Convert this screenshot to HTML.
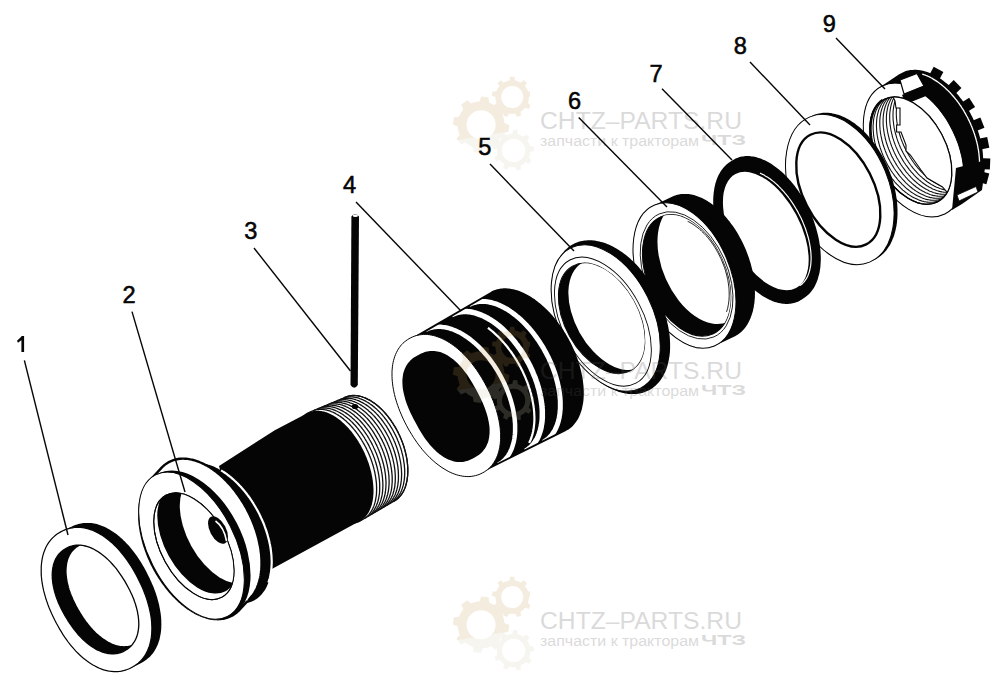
<!DOCTYPE html>
<html><head><meta charset="utf-8"><style>
html,body{margin:0;padding:0;background:#fff;width:1000px;height:687px;overflow:hidden}
svg{display:block}
text{font-family:"Liberation Sans",sans-serif}
</style></head><body>
<svg width="1000" height="687" viewBox="0 0 1000 687"><defs><clipPath id="c1"><ellipse cx="910.8" cy="150.6" rx="57.8" ry="34.9" transform="rotate(62.2 910.8 150.6)"/></clipPath><clipPath id="c2"><ellipse cx="686.6" cy="275.4" rx="64.1" ry="39.0" transform="rotate(66.0 686.6 275.4)"/></clipPath><clipPath id="c3"><ellipse cx="601.6" cy="318.4" rx="59.8" ry="36.6" transform="rotate(60.9 601.6 318.4)"/></clipPath><clipPath id="c4"><path d="M395.9 374.4 L395.9 372.8 L396.0 371.3 L396.1 369.7 L396.2 368.2 L396.4 366.7 L396.6 365.2 L396.9 363.8 L397.1 362.4 L397.5 361.0 L397.8 359.7 L398.2 358.3 L398.6 357.1 L399.1 355.8 L399.6 354.6 L400.1 353.4 L400.6 352.2 L401.2 351.1 L401.9 350.1 L402.5 349.0 L403.2 348.0 L403.9 347.1 L404.6 346.1 L405.4 345.2 L406.2 344.4 L407.0 343.6 L407.9 342.9 L408.8 342.2 L409.7 341.5 L410.6 340.9 L411.6 340.3 L491.7 293.6 L492.8 293.0 L493.8 292.5 L494.9 292.1 L496.0 291.7 L497.1 291.3 L498.2 291.0 L499.4 290.7 L500.6 290.5 L501.8 290.3 L503.0 290.2 L504.3 290.1 L505.5 290.1 L506.8 290.1 L508.1 290.2 L509.4 290.3 L510.7 290.5 L512.0 290.7 L513.4 291.0 L514.7 291.3 L516.1 291.7 L517.5 292.1 L518.8 292.6 L520.2 293.1 L521.6 293.6 L523.0 294.2 L524.4 294.9 L525.8 295.6 L527.2 296.3 L528.6 297.1 L530.0 297.9 L531.4 298.8 L532.8 299.7 L534.2 300.7 L535.6 301.7 L537.0 302.7 L538.4 303.8 L539.8 304.9 L541.2 306.1 L542.5 307.3 L543.9 308.5 L545.2 309.8 L546.6 311.1 L547.9 312.5 L549.2 313.8 L550.5 315.2 L551.8 316.7 L553.0 318.1 L554.3 319.6 L555.5 321.2 L556.7 322.7 L557.9 324.3 L559.1 325.9 L560.2 327.6 L561.4 329.2 L562.5 330.9 L563.5 332.6 L564.6 334.3 L565.6 336.1 L566.6 337.8 L567.6 339.6 L568.6 341.4 L569.5 343.2 L570.4 345.0 L571.3 346.8 L572.1 348.6 L573.0 350.5 L573.7 352.3 L574.5 354.2 L575.2 356.0 L575.9 357.9 L576.5 359.8 L577.2 361.6 L577.8 363.5 L578.3 365.4 L578.8 367.2 L579.3 369.1 L579.8 370.9 L580.2 372.8 L580.6 374.6 L580.9 376.4 L581.2 378.3 L581.5 380.1 L581.8 381.9 L582.0 383.6 L582.1 385.4 L582.2 387.1 L582.3 388.9 L582.4 390.6 L582.4 392.3 L582.4 393.9 L582.3 395.6 L582.2 397.2 L582.1 398.8 L581.9 400.4 L581.7 401.9 L581.5 403.4 L581.2 404.9 L580.9 406.3 L580.5 407.8 L580.2 409.1 L579.8 410.5 L579.3 411.8 L578.8 413.1 L578.3 414.4 L577.7 415.6 L577.1 416.8 L576.5 417.9 L575.8 419.0 L575.1 420.1 L574.4 421.1 L573.7 422.1 L572.9 423.0 L572.1 423.9 L571.2 424.7 L570.4 425.5 L569.4 426.3 L568.5 427.0 L567.5 427.7 L566.6 428.3 L565.5 428.9 L564.5 429.4 L481.6 470.9 L480.5 471.4 L479.5 471.8 L478.4 472.1 L477.3 472.5 L476.2 472.8 L475.1 473.0 L473.9 473.2 L472.8 473.3 L471.6 473.4 L470.4 473.4 L469.2 473.4 L467.9 473.4 L466.7 473.3 L465.4 473.2 L464.2 473.0 L462.9 472.7 L461.6 472.4 L460.3 472.1 L459.0 471.8 L457.6 471.3 L456.3 470.9 L455.0 470.4 L453.6 469.8 L452.3 469.2 L451.0 468.5 L449.6 467.9 L448.2 467.1 L446.9 466.3 L445.6 465.5 L444.2 464.6 L442.9 463.8 L441.5 462.8 L440.2 461.8 L438.8 460.8 L437.5 459.8 L436.2 458.6 L434.9 457.5 L433.6 456.3 L432.2 455.1 L431.0 453.9 L429.7 452.6 L428.4 451.3 L427.2 450.0 L425.9 448.6 L424.7 447.2 L423.5 445.8 L422.3 444.3 L421.1 442.8 L420.0 441.3 L418.8 439.8 L417.7 438.2 L416.6 436.6 L415.6 435.1 L414.5 433.4 L413.5 431.8 L412.5 430.1 L411.5 428.4 L410.5 426.8 L409.6 425.0 L408.7 423.3 L407.8 421.6 L406.9 419.8 L406.1 418.1 L405.3 416.3 L404.6 414.5 L403.8 412.8 L403.1 411.0 L402.4 409.2 L401.8 407.4 L401.2 405.6 L400.6 403.8 L400.0 402.0 L399.5 400.2 L399.0 398.4 L398.6 396.6 L398.2 394.9 L397.8 393.1 L397.4 391.3 L397.1 389.6 L396.8 387.8 L396.6 386.1 L396.4 384.4 L396.2 382.7 L396.1 381.0 L396.0 379.3 L395.9 377.7 L395.9 376.1Z"/></clipPath><clipPath id="c5"><ellipse cx="193.9" cy="546.2" rx="58.2" ry="32.7" transform="rotate(61.1 193.9 546.2)"/></clipPath><clipPath id="c6"><path d="M125.5 650.3 L124.0 651.1 L122.6 651.8 L121.3 652.4 L119.9 652.8 L118.5 653.2 L117.0 653.5 L115.6 653.7 L114.1 653.9 L112.7 653.9 L111.2 653.9 L109.6 653.7 L108.1 653.5 L106.6 653.2 L105.0 652.8 L103.5 652.4 L101.9 651.9 L100.3 651.2 L98.7 650.5 L97.1 649.8 L95.5 648.9 L94.0 648.0 L92.4 647.0 L90.8 645.9 L89.2 644.7 L87.6 643.5 L86.1 642.2 L84.5 640.8 L83.0 639.4 L81.4 637.9 L79.9 636.3 L78.4 634.7 L76.9 632.9 L75.5 631.2 L74.0 629.3 L72.6 627.4 L71.2 625.5 L69.8 623.4 L68.4 621.3 L67.0 619.0 L65.4 616.4 L64.0 613.9 L62.8 611.7 L61.6 609.4 L60.5 607.2 L59.5 605.0 L58.5 602.9 L57.7 600.7 L56.8 598.6 L56.1 596.5 L55.4 594.4 L54.8 592.3 L54.2 590.2 L53.8 588.2 L53.3 586.2 L53.0 584.2 L52.7 582.3 L52.5 580.3 L52.3 578.4 L52.3 576.6 L52.2 574.8 L52.3 573.0 L52.4 571.2 L52.6 569.5 L52.8 567.9 L53.2 566.2 L53.5 564.7 L54.0 563.2 L54.5 561.7 L55.1 560.3 L55.7 558.9 L56.5 557.6 L57.2 556.4 L58.1 555.2 L59.0 554.0 L60.0 553.0 L61.0 551.9 L62.2 551.0 L63.4 550.1 L64.7 549.2 L66.2 548.3 L67.7 547.5 L69.0 546.9 L70.4 546.4 L71.8 546.0 L73.3 545.6 L74.7 545.4 L76.1 545.2 L77.6 545.1 L79.1 545.1 L80.6 545.2 L82.1 545.4 L83.7 545.6 L85.2 546.0 L86.8 546.4 L88.3 546.9 L89.9 547.4 L91.5 548.1 L93.1 548.8 L94.7 549.7 L96.2 550.6 L97.8 551.5 L99.4 552.6 L101.0 553.7 L102.6 554.9 L104.2 556.2 L105.7 557.5 L107.3 558.9 L108.8 560.4 L110.3 561.9 L111.8 563.5 L113.3 565.2 L114.8 566.9 L116.3 568.7 L117.7 570.6 L119.1 572.6 L120.5 574.6 L121.9 576.7 L123.3 578.9 L124.8 581.2 L126.3 583.9 L127.6 586.2 L128.8 588.5 L130.0 590.7 L131.0 592.9 L132.0 595.1 L132.9 597.2 L133.8 599.3 L134.5 601.5 L135.3 603.6 L135.9 605.7 L136.5 607.7 L137.0 609.8 L137.5 611.8 L137.8 613.8 L138.2 615.8 L138.4 617.7 L138.6 619.6 L138.7 621.5 L138.8 623.3 L138.8 625.1 L138.7 626.9 L138.5 628.6 L138.3 630.3 L138.0 632.0 L137.7 633.5 L137.2 635.1 L136.8 636.6 L136.2 638.0 L135.6 639.4 L134.9 640.7 L134.2 642.0 L133.3 643.2 L132.5 644.4 L131.5 645.5 L130.5 646.5 L129.4 647.5 L128.2 648.5 L127.0 649.4Z"/></clipPath><clipPath id="wmA1"><path d="M440 60.0 L530 60.0 L530 128.0 L440 143.0 Z"/></clipPath><clipPath id="wmB1"><path d="M440 143.0 L530 128.0 L530 180.0 L440 180.0 Z"/></clipPath><clipPath id="wmA2"><path d="M440 310.0 L530 310.0 L530 378.0 L440 393.0 Z"/></clipPath><clipPath id="wmB2"><path d="M440 393.0 L530 378.0 L530 430.0 L440 430.0 Z"/></clipPath><clipPath id="wmA3"><path d="M440 560.0 L530 560.0 L530 628.0 L440 643.0 Z"/></clipPath><clipPath id="wmB3"><path d="M440 643.0 L530 628.0 L530 680.0 L440 680.0 Z"/></clipPath></defs><rect width="1000" height="687" fill="#fff"/><rect x="928.2" y="70.1" width="14" height="11" fill="#050505" transform="rotate(-61.5 935.2 75.6)"/>
<rect x="945.6" y="83.4" width="14" height="11" fill="#050505" transform="rotate(-44.7 952.6 88.9)"/>
<rect x="959.2" y="100.6" width="14" height="11" fill="#050505" transform="rotate(-32.4 966.2 106.1)"/>
<rect x="968.9" y="119.8" width="14" height="11" fill="#050505" transform="rotate(-21.6 975.9 125.3)"/>
<rect x="974.4" y="138.3" width="14" height="11" fill="#050505" transform="rotate(-11.2 981.4 143.8)"/>
<rect x="976.1" y="158.3" width="14" height="11" fill="#050505" transform="rotate(2.3 983.1 163.8)"/>
<rect x="974.1" y="171.6" width="14" height="11" fill="#050505" transform="rotate(15.1 981.1 177.1)"/>
<path d="M863.3 124.1 L863.3 122.5 L863.4 120.9 L863.5 119.3 L863.7 117.8 L863.8 116.3 L864.0 114.8 L864.3 113.3 L864.6 111.8 L864.9 110.4 L865.2 109.0 L865.6 107.6 L866.0 106.3 L866.5 105.0 L867.0 103.7 L867.5 102.5 L868.0 101.2 L868.6 100.1 L869.2 98.9 L869.8 97.8 L870.5 96.7 L871.2 95.7 L871.9 94.7 L872.7 93.7 L873.5 92.8 L874.3 91.9 L875.1 91.1 L876.0 90.3 L876.9 89.5 L877.8 88.8 L878.7 88.1 L898.8 74.6 L899.7 74.0 L900.7 73.4 L901.7 72.9 L902.7 72.4 L903.8 71.9 L904.8 71.5 L905.9 71.1 L907.0 70.8 L908.1 70.5 L909.3 70.3 L910.4 70.1 L911.6 70.0 L912.8 69.9 L914.0 69.8 L915.2 69.8 L916.4 69.8 L917.7 69.9 L918.9 70.1 L920.2 70.2 L921.5 70.5 L922.7 70.7 L924.0 71.0 L925.3 71.4 L926.6 71.8 L927.9 72.3 L929.2 72.8 L930.5 73.3 L931.8 73.9 L933.1 74.5 L934.5 75.2 L935.8 75.9 L937.1 76.6 L938.4 77.4 L939.7 78.2 L941.0 79.1 L942.3 80.0 L943.6 81.0 L944.8 81.9 L946.1 83.0 L947.4 84.0 L948.6 85.1 L949.9 86.3 L951.1 87.4 L952.3 88.6 L953.5 89.9 L954.7 91.1 L955.9 92.4 L957.0 93.7 L958.2 95.1 L959.3 96.5 L960.4 97.9 L961.5 99.3 L962.6 100.8 L963.6 102.3 L964.7 103.8 L965.7 105.3 L966.7 106.9 L967.6 108.5 L968.6 110.0 L969.5 111.7 L970.4 113.3 L971.2 114.9 L972.1 116.6 L972.9 118.3 L973.7 120.0 L974.4 121.6 L975.1 123.3 L975.8 125.1 L976.5 126.8 L977.1 128.5 L977.8 130.2 L978.3 132.0 L978.9 133.7 L979.4 135.5 L979.9 137.2 L980.3 138.9 L980.8 140.7 L981.1 142.4 L981.5 144.2 L981.8 145.9 L982.1 147.6 L982.4 149.3 L982.6 151.0 L982.8 152.7 L982.9 154.4 L983.0 156.1 L983.1 157.7 L983.1 159.4 L983.2 161.0 L983.1 162.6 L983.1 164.2 L983.0 165.8 L982.9 167.3 L982.7 168.8 L982.5 170.3 L982.3 171.8 L982.0 173.3 L981.7 174.7 L981.4 176.1 L981.0 177.5 L980.6 178.8 L980.2 180.1 L979.8 181.4 L979.3 182.7 L978.8 183.9 L978.2 185.1 L977.6 186.3 L977.0 187.4 L976.3 188.5 L975.7 189.5 L975.0 190.5 L974.2 191.5 L973.5 192.4 L972.7 193.3 L971.9 194.2 L971.0 195.0 L970.1 195.8 L969.2 196.5 L968.3 197.2 L948.8 211.6 L947.8 212.2 L946.8 212.8 L945.8 213.4 L944.8 213.9 L943.8 214.4 L942.7 214.9 L941.6 215.3 L940.5 215.6 L939.4 215.9 L938.3 216.2 L937.1 216.4 L935.9 216.5 L934.8 216.7 L933.5 216.7 L932.3 216.8 L931.1 216.8 L929.9 216.7 L928.6 216.6 L927.3 216.4 L926.1 216.2 L924.8 216.0 L923.5 215.7 L922.2 215.3 L920.9 214.9 L919.6 214.5 L918.3 214.1 L917.0 213.5 L915.6 213.0 L914.3 212.4 L913.0 211.7 L911.7 211.0 L910.4 210.3 L909.0 209.5 L907.7 208.7 L906.4 207.8 L905.1 206.9 L903.8 206.0 L902.5 205.0 L901.2 204.0 L900.0 203.0 L898.7 201.9 L897.5 200.8 L896.2 199.6 L895.0 198.4 L893.8 197.2 L892.5 195.9 L891.4 194.7 L890.2 193.3 L889.0 192.0 L887.9 190.6 L886.7 189.2 L885.6 187.8 L884.5 186.3 L883.5 184.8 L882.4 183.3 L881.4 181.8 L880.4 180.2 L879.4 178.6 L878.5 177.0 L877.5 175.4 L876.6 173.8 L875.7 172.2 L874.9 170.5 L874.0 168.8 L873.2 167.1 L872.5 165.4 L871.7 163.7 L871.0 162.0 L870.3 160.2 L869.7 158.5 L869.0 156.8 L868.4 155.0 L867.9 153.3 L867.3 151.5 L866.8 149.8 L866.4 148.0 L865.9 146.2 L865.5 144.5 L865.1 142.8 L864.8 141.0 L864.5 139.3 L864.2 137.5 L864.0 135.8 L863.8 134.1 L863.6 132.4 L863.5 130.7 L863.4 129.1 L863.3 127.4 L863.3 125.8Z" fill="#050505" stroke="none" stroke-width="1.00"/>
<path d="M922.2 74.0 L923.0 74.3 L923.8 74.6 L924.6 74.8 L925.4 75.2 L926.2 75.5 L927.0 75.8 L927.8 76.2 L928.6 76.5 L929.4 76.9 L930.2 77.3 L931.0 77.8 L931.8 78.2 L932.6 78.6 L933.3 79.1 L934.1 79.6 L934.9 80.1 L935.7 80.6 L936.5 81.1 L937.3 81.6 L938.1 82.2 L938.9 82.8 L939.6 83.3 L940.4 83.9 L941.2 84.5 L942.0 85.2 L942.7 85.8 L943.5 86.4 L944.3 87.1 L945.0 87.8 L945.8 88.5 L946.5 89.2 L947.3 89.9 L948.0 90.6 L948.7 91.3 L949.5 92.1 L950.2 92.8 L950.9 93.6 L951.6 94.4 L952.3 95.2 L953.0 96.0 L953.7 96.8 L954.4 97.6 L955.1 98.5 L955.8 99.3 L956.5 100.2 L957.1 101.0 L957.8 101.9 L958.5 102.8 L959.1 103.7 L959.7 104.6 L960.4 105.5 L961.0 106.4 L961.6 107.4 L962.2 108.3 L962.8 109.2 L963.4 110.2 L964.0 111.2 L964.5 112.1 L965.1 113.1 L965.7 114.1 L966.2 115.1 L966.7 116.0 L967.3 117.0 L967.8 118.0 L968.3 119.1 L968.8 120.1 L969.3 121.1 L969.7 122.1 L970.2 123.1 L970.7 124.2 L971.1 125.2 L971.6 126.2 L972.0 127.3 L972.4 128.3 L972.8 129.4 L973.2 130.4 L973.6 131.5 L973.9 132.5 L974.3 133.6 L974.7 134.6 L975.0 135.7 L975.3 136.7 L975.6 137.8 L975.9 138.8 L976.2 139.9 L976.5 141.0 L976.8 142.0 L977.0 143.1 L977.3 144.1 L977.5 145.2 L977.7 146.2 L977.9 147.3 L978.1 148.3 L978.3 149.4 L978.5 150.4 L978.6 151.5 L978.8 152.5 L978.9 153.5 L979.0 154.6 L979.1 155.6 L979.2 156.6 L979.3 157.6 L979.4 158.6 L979.4 159.6 L979.5 160.6 L979.5 161.6 L979.5 162.6 L979.6 163.6 L979.5 164.6 L979.5 165.6 L979.5 166.5 L979.5 167.5 L979.4 168.4 L979.3 169.4 L979.3 170.3 L979.2 171.3 L979.1 172.2 L978.9 173.1 L978.8 174.0" fill="none" stroke="#fff" stroke-width="1.30"/>
<ellipse cx="913.5" cy="150.0" rx="71.2" ry="43.7" transform="rotate(63.9 913.5 150.0)" fill="#fff" stroke="#050505" stroke-width="1.00" />
<path d="M956 168 L986 160 L982 190 L962 204 L952 210 Z" fill="#050505"/>
<path d="M957 195 L976 186.5 L978 192 L959 201 Z" fill="#fff" stroke="#050505" stroke-width="0.8"/>
<path d="M900 80 L917 73.5 L924 86 L904 94 Z" fill="#fff" stroke="#050505" stroke-width="1.2"/>
<path d="M902 95 L921 87 L926 96 L906 104 Z" fill="#050505"/>
<ellipse cx="910.8" cy="150.6" rx="57.8" ry="34.9" transform="rotate(62.2 910.8 150.6)" fill="#fff" stroke="#050505" stroke-width="1.20" />
<g clip-path="url(#c1)">
<path d="M938.8 201.2 L938.0 201.6 L937.2 202.0 L936.3 202.4 L935.5 202.8 L934.6 203.1 L933.7 203.4 L932.8 203.6 L931.9 203.8 L930.9 204.0 L930.0 204.1 L929.0 204.2 L928.0 204.2 L927.1 204.3 L926.1 204.2 L925.1 204.2 L924.0 204.1 L923.0 203.9 L922.0 203.8 L920.9 203.6 L919.9 203.3 L918.8 203.0 L917.7 202.7 L916.7 202.4 L915.6 202.0 L914.5 201.6 L913.5 201.1 L912.4 200.6 L911.3 200.1 L910.2 199.5 L909.1 198.9 L908.0 198.3 L907.0 197.6 L905.9 196.9 L904.8 196.2 L903.8 195.4 L902.7 194.6 L901.6 193.8 L900.6 192.9 L899.5 192.1 L898.5 191.1 L897.5 190.2 L896.5 189.2 L895.4 188.2 L894.4 187.2 L893.5 186.2 L892.5 185.1 L891.5 184.0 L890.6 182.9 L889.6 181.7 L888.7 180.6 L887.8 179.4 L886.9 178.2 L886.1 176.9 L885.2 175.7 L884.4 174.4 L883.6 173.2 L882.8 171.9 L882.0 170.6 L881.2 169.2 L880.5 167.9 L879.8 166.6 L879.1 165.2 L878.4 163.8 L877.7 162.5 L877.1 161.1 L876.5 159.7 L875.9 158.3 L875.4 156.9 L874.8 155.5 L874.3 154.1 L873.9 152.6 L873.4 151.2 L873.0 149.8 L872.6 148.4 L872.2 147.0 L871.8 145.6 L871.5 144.2 L871.2 142.7 L871.0 141.4 L870.7 140.0 L870.5 138.6 L870.3 137.2 L870.2 135.8 L870.0 134.5 L869.9 133.1 L869.9 131.8 L869.8 130.5 L869.8 129.2 L869.8 127.9 L869.9 126.6 L869.9 125.3 L870.0 124.1 L870.2 122.9 L870.3 121.7 L870.5 120.5 L870.7 119.3 L871.0 118.2 L871.2 117.1 L871.5 116.0 L871.9 114.9 L872.2 113.9 L872.6 112.8 L873.0 111.9 L873.4 110.9 L873.9 109.9 L874.4 109.0 L874.9 108.2 L875.4 107.3 L876.0 106.5 L876.6 105.7 L877.2 104.9 L877.8 104.2 L878.5 103.5 L879.1 102.8 L879.8 102.2 L880.5 101.6 L881.3 101.1 L882.0 100.5 L882.8 100.0" fill="none" stroke="#111" stroke-width="1.10"/>
<path d="M942.1 199.2 L941.3 199.6 L940.5 200.0 L939.6 200.4 L938.8 200.8 L937.9 201.1 L937.0 201.4 L936.1 201.6 L935.2 201.8 L934.2 202.0 L933.3 202.1 L932.3 202.2 L931.4 202.3 L930.4 202.3 L929.4 202.2 L928.4 202.2 L927.3 202.1 L926.3 202.0 L925.3 201.8 L924.2 201.6 L923.2 201.3 L922.1 201.1 L921.1 200.7 L920.0 200.4 L918.9 200.0 L917.8 199.6 L916.8 199.1 L915.7 198.6 L914.6 198.1 L913.5 197.5 L912.4 196.9 L911.4 196.3 L910.3 195.6 L909.2 194.9 L908.1 194.2 L907.1 193.4 L906.0 192.6 L904.9 191.8 L903.9 190.9 L902.8 190.1 L901.8 189.1 L900.8 188.2 L899.8 187.2 L898.8 186.2 L897.8 185.2 L896.8 184.2 L895.8 183.1 L894.8 182.0 L893.9 180.9 L893.0 179.7 L892.0 178.6 L891.1 177.4 L890.2 176.2 L889.4 175.0 L888.5 173.7 L887.7 172.5 L886.9 171.2 L886.1 169.9 L885.3 168.6 L884.5 167.3 L883.8 165.9 L883.1 164.6 L882.4 163.2 L881.7 161.8 L881.1 160.5 L880.4 159.1 L879.8 157.7 L879.2 156.3 L878.7 154.9 L878.2 153.5 L877.6 152.1 L877.2 150.6 L876.7 149.2 L876.3 147.8 L875.9 146.4 L875.5 145.0 L875.2 143.6 L874.8 142.2 L874.5 140.8 L874.3 139.4 L874.0 138.0 L873.8 136.6 L873.6 135.2 L873.5 133.8 L873.4 132.5 L873.3 131.1 L873.2 129.8 L873.1 128.5 L873.1 127.2 L873.1 125.9 L873.2 124.6 L873.3 123.4 L873.4 122.1 L873.5 120.9 L873.6 119.7 L873.8 118.5 L874.0 117.3 L874.3 116.2 L874.6 115.1 L874.9 114.0 L875.2 112.9 L875.5 111.9 L875.9 110.9 L876.3 109.9 L876.8 108.9 L877.2 108.0 L877.7 107.1 L878.2 106.2 L878.7 105.3 L879.3 104.5 L879.9 103.7 L880.5 102.9 L881.1 102.2 L881.8 101.5 L882.4 100.9 L883.1 100.2 L883.9 99.6 L884.6 99.1 L885.4 98.5 L886.1 98.1" fill="none" stroke="#111" stroke-width="1.10"/>
<path d="M945.4 197.2 L944.6 197.6 L943.8 198.1 L942.9 198.4 L942.1 198.8 L941.2 199.1 L940.3 199.4 L939.4 199.6 L938.5 199.8 L937.6 200.0 L936.6 200.1 L935.6 200.2 L934.7 200.3 L933.7 200.3 L932.7 200.3 L931.7 200.2 L930.7 200.1 L929.6 200.0 L928.6 199.8 L927.5 199.6 L926.5 199.4 L925.4 199.1 L924.4 198.8 L923.3 198.4 L922.2 198.0 L921.2 197.6 L920.1 197.1 L919.0 196.6 L917.9 196.1 L916.8 195.5 L915.8 194.9 L914.7 194.3 L913.6 193.6 L912.5 192.9 L911.4 192.2 L910.4 191.4 L909.3 190.6 L908.3 189.8 L907.2 189.0 L906.2 188.1 L905.1 187.2 L904.1 186.2 L903.1 185.2 L902.1 184.3 L901.1 183.2 L900.1 182.2 L899.1 181.1 L898.1 180.0 L897.2 178.9 L896.3 177.7 L895.3 176.6 L894.4 175.4 L893.6 174.2 L892.7 173.0 L891.8 171.7 L891.0 170.5 L890.2 169.2 L889.4 167.9 L888.6 166.6 L887.8 165.3 L887.1 163.9 L886.4 162.6 L885.7 161.2 L885.0 159.9 L884.4 158.5 L883.7 157.1 L883.1 155.7 L882.6 154.3 L882.0 152.9 L881.5 151.5 L881.0 150.1 L880.5 148.7 L880.0 147.2 L879.6 145.8 L879.2 144.4 L878.8 143.0 L878.5 141.6 L878.1 140.2 L877.8 138.8 L877.6 137.4 L877.3 136.0 L877.1 134.6 L876.9 133.2 L876.8 131.9 L876.7 130.5 L876.6 129.2 L876.5 127.8 L876.5 126.5 L876.4 125.2 L876.5 123.9 L876.5 122.6 L876.6 121.4 L876.7 120.1 L876.8 118.9 L877.0 117.7 L877.1 116.5 L877.4 115.4 L877.6 114.2 L877.9 113.1 L878.2 112.0 L878.5 110.9 L878.8 109.9 L879.2 108.9 L879.6 107.9 L880.1 106.9 L880.5 106.0 L881.0 105.1 L881.5 104.2 L882.0 103.3 L882.6 102.5 L883.2 101.7 L883.8 101.0 L884.4 100.2 L885.1 99.5 L885.8 98.9 L886.5 98.2 L887.2 97.6 L887.9 97.1 L888.7 96.6 L889.5 96.1" fill="none" stroke="#111" stroke-width="1.10"/>
<path d="M948.7 195.2 L947.9 195.7 L947.1 196.1 L946.3 196.5 L945.4 196.8 L944.5 197.1 L943.6 197.4 L942.7 197.6 L941.8 197.8 L940.9 198.0 L939.9 198.1 L939.0 198.2 L938.0 198.3 L937.0 198.3 L936.0 198.3 L935.0 198.2 L934.0 198.1 L932.9 198.0 L931.9 197.8 L930.9 197.6 L929.8 197.4 L928.8 197.1 L927.7 196.8 L926.6 196.4 L925.5 196.0 L924.5 195.6 L923.4 195.1 L922.3 194.6 L921.2 194.1 L920.1 193.5 L919.1 192.9 L918.0 192.3 L916.9 191.6 L915.8 190.9 L914.8 190.2 L913.7 189.4 L912.6 188.7 L911.6 187.8 L910.5 187.0 L909.5 186.1 L908.4 185.2 L907.4 184.2 L906.4 183.3 L905.4 182.3 L904.4 181.2 L903.4 180.2 L902.4 179.1 L901.5 178.0 L900.5 176.9 L899.6 175.8 L898.7 174.6 L897.8 173.4 L896.9 172.2 L896.0 171.0 L895.1 169.7 L894.3 168.5 L893.5 167.2 L892.7 165.9 L891.9 164.6 L891.2 163.3 L890.4 161.9 L889.7 160.6 L889.0 159.2 L888.3 157.9 L887.7 156.5 L887.0 155.1 L886.4 153.7 L885.9 152.3 L885.3 150.9 L884.8 149.5 L884.3 148.1 L883.8 146.7 L883.3 145.3 L882.9 143.8 L882.5 142.4 L882.1 141.0 L881.8 139.6 L881.5 138.2 L881.2 136.8 L880.9 135.4 L880.7 134.0 L880.4 132.6 L880.3 131.2 L880.1 129.9 L880.0 128.5 L879.9 127.2 L879.8 125.8 L879.8 124.5 L879.8 123.2 L879.8 121.9 L879.8 120.6 L879.9 119.4 L880.0 118.1 L880.1 116.9 L880.3 115.7 L880.5 114.5 L880.7 113.4 L880.9 112.2 L881.2 111.1 L881.5 110.0 L881.8 109.0 L882.2 107.9 L882.5 106.9 L882.9 105.9 L883.4 104.9 L883.8 104.0 L884.3 103.1 L884.8 102.2 L885.4 101.3 L885.9 100.5 L886.5 99.7 L887.1 99.0 L887.7 98.2 L888.4 97.5 L889.1 96.9 L889.8 96.3 L890.5 95.7 L891.2 95.1 L892.0 94.6 L892.8 94.1" fill="none" stroke="#111" stroke-width="1.10"/>
<path d="M952.0 193.2 L951.2 193.7 L950.4 194.1 L949.6 194.5 L948.7 194.8 L947.8 195.1 L946.9 195.4 L946.0 195.6 L945.1 195.9 L944.2 196.0 L943.2 196.1 L942.3 196.2 L941.3 196.3 L940.3 196.3 L939.3 196.3 L938.3 196.2 L937.3 196.1 L936.3 196.0 L935.2 195.8 L934.2 195.6 L933.1 195.4 L932.1 195.1 L931.0 194.8 L929.9 194.4 L928.9 194.0 L927.8 193.6 L926.7 193.1 L925.6 192.7 L924.5 192.1 L923.5 191.6 L922.4 191.0 L921.3 190.3 L920.2 189.7 L919.1 189.0 L918.1 188.2 L917.0 187.5 L915.9 186.7 L914.9 185.8 L913.8 185.0 L912.8 184.1 L911.7 183.2 L910.7 182.2 L909.7 181.3 L908.7 180.3 L907.7 179.3 L906.7 178.2 L905.7 177.1 L904.8 176.0 L903.8 174.9 L902.9 173.8 L902.0 172.6 L901.1 171.4 L900.2 170.2 L899.3 169.0 L898.5 167.7 L897.6 166.5 L896.8 165.2 L896.0 163.9 L895.2 162.6 L894.5 161.3 L893.7 160.0 L893.0 158.6 L892.3 157.2 L891.6 155.9 L891.0 154.5 L890.4 153.1 L889.8 151.7 L889.2 150.3 L888.6 148.9 L888.1 147.5 L887.6 146.1 L887.1 144.7 L886.6 143.3 L886.2 141.9 L885.8 140.4 L885.4 139.0 L885.1 137.6 L884.8 136.2 L884.5 134.8 L884.2 133.4 L884.0 132.0 L883.8 130.6 L883.6 129.2 L883.4 127.9 L883.3 126.5 L883.2 125.2 L883.1 123.8 L883.1 122.5 L883.1 121.2 L883.1 119.9 L883.1 118.7 L883.2 117.4 L883.3 116.2 L883.4 114.9 L883.6 113.7 L883.8 112.5 L884.0 111.4 L884.2 110.2 L884.5 109.1 L884.8 108.0 L885.1 107.0 L885.5 105.9 L885.9 104.9 L886.3 103.9 L886.7 102.9 L887.1 102.0 L887.6 101.1 L888.1 100.2 L888.7 99.4 L889.2 98.5 L889.8 97.7 L890.4 97.0 L891.1 96.3 L891.7 95.6 L892.4 94.9 L893.1 94.3 L893.8 93.7 L894.5 93.1 L895.3 92.6 L896.1 92.1" fill="none" stroke="#111" stroke-width="1.10"/>
<path d="M955.3 191.2 L954.5 191.7 L953.7 192.1 L952.9 192.5 L952.0 192.8 L951.1 193.1 L950.3 193.4 L949.4 193.7 L948.4 193.9 L947.5 194.0 L946.5 194.2 L945.6 194.2 L944.6 194.3 L943.6 194.3 L942.6 194.3 L941.6 194.2 L940.6 194.1 L939.6 194.0 L938.5 193.8 L937.5 193.6 L936.4 193.4 L935.4 193.1 L934.3 192.8 L933.2 192.4 L932.2 192.0 L931.1 191.6 L930.0 191.2 L928.9 190.7 L927.9 190.1 L926.8 189.6 L925.7 189.0 L924.6 188.3 L923.5 187.7 L922.5 187.0 L921.4 186.2 L920.3 185.5 L919.3 184.7 L918.2 183.9 L917.1 183.0 L916.1 182.1 L915.1 181.2 L914.0 180.3 L913.0 179.3 L912.0 178.3 L911.0 177.3 L910.0 176.2 L909.0 175.1 L908.1 174.0 L907.1 172.9 L906.2 171.8 L905.3 170.6 L904.4 169.4 L903.5 168.2 L902.6 167.0 L901.8 165.8 L900.9 164.5 L900.1 163.2 L899.3 161.9 L898.5 160.6 L897.8 159.3 L897.0 158.0 L896.3 156.6 L895.6 155.3 L895.0 153.9 L894.3 152.5 L893.7 151.1 L893.1 149.7 L892.5 148.3 L891.9 146.9 L891.4 145.5 L890.9 144.1 L890.4 142.7 L890.0 141.3 L889.5 139.9 L889.1 138.5 L888.8 137.0 L888.4 135.6 L888.1 134.2 L887.8 132.8 L887.5 131.4 L887.3 130.0 L887.1 128.6 L886.9 127.3 L886.7 125.9 L886.6 124.5 L886.5 123.2 L886.4 121.9 L886.4 120.5 L886.4 119.2 L886.4 117.9 L886.4 116.7 L886.5 115.4 L886.6 114.2 L886.7 112.9 L886.9 111.7 L887.1 110.6 L887.3 109.4 L887.5 108.3 L887.8 107.1 L888.1 106.0 L888.4 105.0 L888.8 103.9 L889.2 102.9 L889.6 101.9 L890.0 101.0 L890.5 100.0 L890.9 99.1 L891.5 98.2 L892.0 97.4 L892.5 96.5 L893.1 95.8 L893.7 95.0 L894.4 94.3 L895.0 93.6 L895.7 92.9 L896.4 92.3 L897.1 91.7 L897.8 91.1 L898.6 90.6 L899.4 90.1" fill="none" stroke="#111" stroke-width="1.10"/>
<path d="M958.6 189.2 L957.8 189.7 L957.0 190.1 L956.2 190.5 L955.3 190.8 L954.5 191.2 L953.6 191.4 L952.7 191.7 L951.7 191.9 L950.8 192.0 L949.9 192.2 L948.9 192.3 L947.9 192.3 L946.9 192.3 L945.9 192.3 L944.9 192.3 L943.9 192.2 L942.9 192.0 L941.8 191.9 L940.8 191.6 L939.7 191.4 L938.7 191.1 L937.6 190.8 L936.6 190.5 L935.5 190.1 L934.4 189.6 L933.3 189.2 L932.2 188.7 L931.2 188.1 L930.1 187.6 L929.0 187.0 L927.9 186.3 L926.8 185.7 L925.8 185.0 L924.7 184.2 L923.6 183.5 L922.6 182.7 L921.5 181.9 L920.5 181.0 L919.4 180.1 L918.4 179.2 L917.3 178.3 L916.3 177.3 L915.3 176.3 L914.3 175.3 L913.3 174.2 L912.4 173.2 L911.4 172.1 L910.5 170.9 L909.5 169.8 L908.6 168.6 L907.7 167.4 L906.8 166.2 L905.9 165.0 L905.1 163.8 L904.2 162.5 L903.4 161.2 L902.6 159.9 L901.9 158.6 L901.1 157.3 L900.4 156.0 L899.6 154.6 L898.9 153.3 L898.3 151.9 L897.6 150.5 L897.0 149.1 L896.4 147.8 L895.8 146.4 L895.2 144.9 L894.7 143.5 L894.2 142.1 L893.7 140.7 L893.3 139.3 L892.8 137.9 L892.4 136.5 L892.1 135.0 L891.7 133.6 L891.4 132.2 L891.1 130.8 L890.8 129.4 L890.6 128.0 L890.4 126.6 L890.2 125.3 L890.0 123.9 L889.9 122.6 L889.8 121.2 L889.7 119.9 L889.7 118.6 L889.7 117.2 L889.7 116.0 L889.7 114.7 L889.8 113.4 L889.9 112.2 L890.1 111.0 L890.2 109.8 L890.4 108.6 L890.6 107.4 L890.9 106.3 L891.1 105.2 L891.4 104.1 L891.7 103.0 L892.1 101.9 L892.5 100.9 L892.9 99.9 L893.3 99.0 L893.8 98.0 L894.3 97.1 L894.8 96.2 L895.3 95.4 L895.9 94.6 L896.4 93.8 L897.0 93.0 L897.7 92.3 L898.3 91.6 L899.0 90.9 L899.7 90.3 L900.4 89.7 L901.2 89.1 L901.9 88.6 L902.7 88.1" fill="none" stroke="#111" stroke-width="1.10"/>
<path d="M962.0 187.2 L961.2 187.7 L960.3 188.1 L959.5 188.5 L958.6 188.9 L957.8 189.2 L956.9 189.4 L956.0 189.7 L955.1 189.9 L954.1 190.1 L953.2 190.2 L952.2 190.3 L951.2 190.3 L950.2 190.3 L949.2 190.3 L948.2 190.3 L947.2 190.2 L946.2 190.0 L945.2 189.9 L944.1 189.7 L943.1 189.4 L942.0 189.1 L940.9 188.8 L939.9 188.5 L938.8 188.1 L937.7 187.6 L936.6 187.2 L935.6 186.7 L934.5 186.2 L933.4 185.6 L932.3 185.0 L931.2 184.4 L930.2 183.7 L929.1 183.0 L928.0 182.3 L926.9 181.5 L925.9 180.7 L924.8 179.9 L923.8 179.0 L922.7 178.1 L921.7 177.2 L920.7 176.3 L919.6 175.3 L918.6 174.3 L917.6 173.3 L916.6 172.2 L915.7 171.2 L914.7 170.1 L913.8 169.0 L912.8 167.8 L911.9 166.6 L911.0 165.5 L910.1 164.3 L909.2 163.0 L908.4 161.8 L907.6 160.5 L906.7 159.2 L905.9 158.0 L905.2 156.6 L904.4 155.3 L903.7 154.0 L902.9 152.6 L902.3 151.3 L901.6 149.9 L900.9 148.5 L900.3 147.2 L899.7 145.8 L899.1 144.4 L898.6 143.0 L898.0 141.6 L897.5 140.1 L897.0 138.7 L896.6 137.3 L896.2 135.9 L895.8 134.5 L895.4 133.1 L895.0 131.6 L894.7 130.2 L894.4 128.8 L894.1 127.4 L893.9 126.0 L893.7 124.7 L893.5 123.3 L893.4 121.9 L893.2 120.6 L893.1 119.2 L893.1 117.9 L893.0 116.6 L893.0 115.3 L893.0 114.0 L893.1 112.7 L893.1 111.4 L893.2 110.2 L893.4 109.0 L893.5 107.8 L893.7 106.6 L893.9 105.4 L894.2 104.3 L894.4 103.2 L894.7 102.1 L895.1 101.0 L895.4 100.0 L895.8 98.9 L896.2 97.9 L896.6 97.0 L897.1 96.0 L897.6 95.1 L898.1 94.2 L898.6 93.4 L899.2 92.6 L899.8 91.8 L900.4 91.0 L901.0 90.3 L901.6 89.6 L902.3 88.9 L903.0 88.3 L903.7 87.7 L904.5 87.1 L905.2 86.6 L906.0 86.1" fill="none" stroke="#111" stroke-width="1.10"/>
<path d="M965.3 185.3 L964.5 185.7 L963.7 186.1 L962.8 186.5 L962.0 186.9 L961.1 187.2 L960.2 187.5 L959.3 187.7 L958.4 187.9 L957.4 188.1 L956.5 188.2 L955.5 188.3 L954.5 188.3 L953.6 188.4 L952.6 188.3 L951.6 188.3 L950.5 188.2 L949.5 188.0 L948.5 187.9 L947.4 187.7 L946.4 187.4 L945.3 187.1 L944.2 186.8 L943.2 186.5 L942.1 186.1 L941.0 185.7 L940.0 185.2 L938.9 184.7 L937.8 184.2 L936.7 183.6 L935.6 183.0 L934.5 182.4 L933.5 181.7 L932.4 181.0 L931.3 180.3 L930.3 179.5 L929.2 178.7 L928.1 177.9 L927.1 177.0 L926.0 176.2 L925.0 175.2 L924.0 174.3 L923.0 173.3 L921.9 172.3 L920.9 171.3 L920.0 170.3 L919.0 169.2 L918.0 168.1 L917.1 167.0 L916.1 165.8 L915.2 164.7 L914.3 163.5 L913.4 162.3 L912.6 161.0 L911.7 159.8 L910.9 158.5 L910.1 157.3 L909.3 156.0 L908.5 154.7 L907.7 153.3 L907.0 152.0 L906.3 150.7 L905.6 149.3 L904.9 147.9 L904.2 146.6 L903.6 145.2 L903.0 143.8 L902.4 142.4 L901.9 141.0 L901.3 139.6 L900.8 138.2 L900.4 136.7 L899.9 135.3 L899.5 133.9 L899.1 132.5 L898.7 131.1 L898.3 129.7 L898.0 128.3 L897.7 126.8 L897.5 125.5 L897.2 124.1 L897.0 122.7 L896.8 121.3 L896.7 119.9 L896.5 118.6 L896.4 117.2 L896.4 115.9 L896.3 114.6 L896.3 113.3 L896.3 112.0 L896.4 110.7 L896.4 109.4 L896.5 108.2 L896.7 107.0 L896.8 105.8 L897.0 104.6 L897.2 103.4 L897.5 102.3 L897.7 101.2 L898.0 100.1 L898.4 99.0 L898.7 98.0 L899.1 96.9 L899.5 96.0 L899.9 95.0 L900.4 94.0 L900.9 93.1 L901.4 92.3 L901.9 91.4 L902.5 90.6 L903.1 89.8 L903.7 89.0 L904.3 88.3 L905.0 87.6 L905.6 86.9 L906.3 86.3 L907.0 85.7 L907.8 85.2 L908.5 84.6 L909.3 84.1" fill="none" stroke="#111" stroke-width="1.10"/>
<path d="M893.0 97.0 L895.0 101.0 L896.0 108.0 L900.0 108.0 L900.0 125.0 L896.6 125.0 L896.6 132.0 L901.0 132.0 L906.0 145.0 L906.0 151.0 L910.4 155.0 L921.0 170.0 L927.0 178.0 L942.5 187.0 L947.0 192.0 L960.0 200.0 L985.0 150.0 L940.0 85.0Z" fill="#fff" stroke="#050505" stroke-width="1.1"/>
</g>
<ellipse cx="910.8" cy="150.6" rx="57.8" ry="34.9" transform="rotate(62.2 910.8 150.6)" fill="none" stroke="#050505" stroke-width="1.20" />
<path d="M872.7 145.1 L872.6 144.6 L872.5 144.1 L872.4 143.6 L872.3 143.1 L872.2 142.6 L872.1 142.1 L872.0 141.7 L871.9 141.2 L871.8 140.7 L871.7 140.2 L871.6 139.7 L871.5 139.2 L871.4 138.7 L871.4 138.2 L871.3 137.8 L871.2 137.3 L871.2 136.8 L871.1 136.3 L871.1 135.8 L871.0 135.4 L870.9 134.9 L870.9 134.4 L870.9 133.9 L870.8 133.5 L870.8 133.0 L870.8 132.5 L870.7 132.0 L870.7 131.6 L870.7 131.1 L870.7 130.6 L870.6 130.2 L870.6 129.7 L870.6 129.3 L870.6 128.8 L870.6 128.4 L870.6 127.9 L870.6 127.4 L870.6 127.0 L870.6 126.5 L870.7 126.1 L870.7 125.7 L870.7 125.2 L870.7 124.8 L870.8 124.3 L870.8 123.9 L870.8 123.5 L870.9 123.0 L870.9 122.6 L871.0 122.2 L871.0 121.8 L871.1 121.3 L871.1 120.9 L871.2 120.5 L871.3 120.1 L871.3 119.7 L871.4 119.3 L871.5 118.9 L871.6 118.5 L871.6 118.1 L871.7 117.7 L871.8 117.3 L871.9 116.9 L872.0 116.5 L872.1 116.1 L872.2 115.7 L872.3 115.3 L872.4 115.0 L872.5 114.6 L872.6 114.2 L872.8 113.8 L872.9 113.5 L873.0 113.1 L873.1 112.7 L873.3 112.4 L873.4 112.0 L873.5 111.7 L873.7 111.3 L873.8 111.0 L874.0 110.7 L874.1 110.3 L874.3 110.0 L874.4 109.6 L874.6 109.3 L874.8 109.0 L874.9 108.7 L875.1 108.4 L875.3 108.0 L875.5 107.7 L875.6 107.4 L875.8 107.1 L876.0 106.8 L876.2 106.5 L876.4 106.2 L876.6 106.0 L876.8 105.7 L877.0 105.4 L877.2 105.1 L877.4 104.8 L877.6 104.6 L877.8 104.3 L878.0 104.0 L878.3 103.8 L878.5 103.5 L878.7 103.3 L878.9 103.0 L879.2 102.8 L879.4 102.6 L879.6 102.3 L879.9 102.1 L880.1 101.9 L880.4 101.7 L880.6 101.4 L880.9 101.2 L881.1 101.0 L881.4 100.8 L881.6 100.6 L881.9 100.4 L882.1 100.2 L882.4 100.0" fill="none" stroke="#050505" stroke-width="2.20"/>
<path d="M785.5 164.9 L785.6 163.1 L785.6 161.2 L785.7 159.4 L785.9 157.6 L786.0 155.8 L786.3 154.1 L786.5 152.4 L786.8 150.7 L787.1 149.0 L787.5 147.3 L787.9 145.7 L788.3 144.1 L788.8 142.6 L789.3 141.1 L789.8 139.6 L790.4 138.1 L791.0 136.7 L791.6 135.3 L792.3 134.0 L793.0 132.7 L793.7 131.4 L794.5 130.2 L795.3 129.0 L796.1 127.9 L797.0 126.8 L797.9 125.7 L798.8 124.7 L799.7 123.7 L800.7 122.8 L801.7 121.9 L802.7 121.1 L803.8 120.3 L804.9 119.6 L806.0 118.9 L807.1 118.2 L810.6 116.5 L811.8 115.9 L812.9 115.3 L814.1 114.8 L815.3 114.4 L816.5 114.0 L817.8 113.7 L819.1 113.4 L820.4 113.2 L821.7 113.0 L823.0 112.8 L824.3 112.8 L825.6 112.7 L827.0 112.8 L828.4 112.8 L829.7 113.0 L831.1 113.1 L832.5 113.4 L833.9 113.7 L835.3 114.0 L836.7 114.4 L838.2 114.8 L839.6 115.3 L841.0 115.8 L842.4 116.4 L843.9 117.0 L845.3 117.7 L846.7 118.5 L848.1 119.2 L849.5 120.1 L851.0 120.9 L852.4 121.9 L853.8 122.8 L855.2 123.8 L856.5 124.9 L857.9 126.0 L859.3 127.1 L860.7 128.3 L862.0 129.5 L863.3 130.8 L864.6 132.1 L866.0 133.4 L867.2 134.8 L868.5 136.2 L869.8 137.7 L871.0 139.2 L872.2 140.7 L873.4 142.2 L874.6 143.8 L875.8 145.4 L876.9 147.1 L878.0 148.8 L879.1 150.4 L880.1 152.2 L881.2 153.9 L882.2 155.7 L883.1 157.5 L884.1 159.3 L885.0 161.1 L885.9 163.0 L886.8 164.8 L887.6 166.7 L888.4 168.6 L889.2 170.5 L890.0 172.5 L890.7 174.4 L891.4 176.3 L892.0 178.3 L892.6 180.3 L893.2 182.2 L893.7 184.2 L894.2 186.2 L894.7 188.1 L895.1 190.1 L895.5 192.1 L895.9 194.0 L896.2 196.0 L896.5 197.9 L896.8 199.9 L897.0 201.8 L897.2 203.8 L897.3 205.7 L897.4 207.6 L897.5 209.5 L897.5 211.4 L897.5 213.2 L897.5 215.1 L897.4 216.9 L897.3 218.7 L897.1 220.5 L897.0 222.2 L896.7 224.0 L896.5 225.7 L896.1 227.4 L895.8 229.0 L895.4 230.7 L895.0 232.3 L894.6 233.8 L894.1 235.4 L893.6 236.9 L893.0 238.3 L892.4 239.8 L891.8 241.2 L891.2 242.6 L890.5 243.9 L889.8 245.2 L889.0 246.4 L888.2 247.6 L887.4 248.8 L886.6 249.9 L885.7 251.0 L884.8 252.0 L883.9 253.0 L882.9 253.9 L881.9 254.8 L880.9 255.7 L879.8 256.5 L878.8 257.3 L877.7 258.0 L876.6 258.6 L875.4 259.2 L871.9 261.1 L870.8 261.6 L869.6 262.1 L868.4 262.6 L867.2 263.0 L865.9 263.4 L864.7 263.7 L863.4 263.9 L862.1 264.1 L860.8 264.3 L859.5 264.4 L858.1 264.5 L856.8 264.5 L855.4 264.4 L854.0 264.3 L852.7 264.2 L851.3 263.9 L849.9 263.7 L848.5 263.4 L847.1 263.0 L845.6 262.6 L844.2 262.2 L842.8 261.6 L841.4 261.1 L840.0 260.5 L838.5 259.8 L837.1 259.1 L835.7 258.4 L834.3 257.6 L832.9 256.7 L831.4 255.8 L830.0 254.9 L828.6 253.9 L827.2 252.8 L825.9 251.8 L824.5 250.7 L823.1 249.5 L821.8 248.3 L820.4 247.0 L819.1 245.8 L817.8 244.4 L816.5 243.1 L815.2 241.7 L814.0 240.2 L812.7 238.8 L811.5 237.3 L810.3 235.7 L809.1 234.2 L807.9 232.6 L806.8 230.9 L805.7 229.3 L804.6 227.6 L803.5 225.9 L802.5 224.2 L801.4 222.4 L800.4 220.6 L799.5 218.8 L798.5 217.0 L797.6 215.2 L796.7 213.3 L795.9 211.4 L795.1 209.5 L794.3 207.6 L793.5 205.7 L792.8 203.8 L792.1 201.8 L791.4 199.9 L790.8 197.9 L790.2 196.0 L789.6 194.0 L789.1 192.0 L788.6 190.1 L788.2 188.1 L787.8 186.1 L787.4 184.2 L787.0 182.2 L786.7 180.2 L786.4 178.3 L786.2 176.3 L786.0 174.4 L785.8 172.5 L785.7 170.6 L785.6 168.7 L785.6 166.8Z" fill="#050505" stroke="none" stroke-width="1.00"/>
<ellipse cx="839.8" cy="189.5" rx="78.5" ry="49.0" transform="rotate(67.7 839.8 189.5)" fill="#fff" stroke="#050505" stroke-width="1.00" />
<ellipse cx="838.3" cy="189.6" rx="61.5" ry="35.3" transform="rotate(63.0 838.3 189.6)" fill="#fff" stroke="#050505" stroke-width="2.40" />
<path d="M713.2 200.8 L713.2 199.1 L713.3 197.4 L713.4 195.7 L713.6 194.0 L713.7 192.4 L714.0 190.8 L714.2 189.2 L714.5 187.6 L714.8 186.1 L715.2 184.6 L715.5 183.1 L716.0 181.7 L716.4 180.3 L716.9 178.9 L717.5 177.6 L718.0 176.3 L718.6 175.1 L719.2 173.9 L719.9 172.7 L720.6 171.6 L721.3 170.5 L722.0 169.4 L722.8 168.4 L723.6 167.4 L724.5 166.5 L725.3 165.7 L726.2 164.8 L727.1 164.1 L728.1 163.3 L729.1 162.6 L732.1 160.6 L733.1 160.0 L734.1 159.4 L735.1 158.8 L736.2 158.3 L737.3 157.9 L738.4 157.5 L739.5 157.1 L740.7 156.8 L741.9 156.6 L743.1 156.4 L744.3 156.2 L745.5 156.1 L746.7 156.1 L748.0 156.1 L749.3 156.1 L750.5 156.2 L751.9 156.4 L753.2 156.6 L754.5 156.8 L755.8 157.1 L757.1 157.5 L758.5 157.9 L759.8 158.3 L761.2 158.8 L762.6 159.4 L763.9 160.0 L765.3 160.6 L766.7 161.3 L768.0 162.0 L769.4 162.8 L770.8 163.6 L772.2 164.5 L773.5 165.4 L774.9 166.4 L776.3 167.4 L777.6 168.4 L779.0 169.5 L780.3 170.7 L781.7 171.8 L783.0 173.1 L784.3 174.3 L785.6 175.6 L786.9 176.9 L788.2 178.3 L789.4 179.7 L790.7 181.1 L791.9 182.6 L793.1 184.1 L794.4 185.6 L795.5 187.1 L796.7 188.7 L797.9 190.3 L799.0 192.0 L800.1 193.6 L801.2 195.3 L802.2 197.0 L803.3 198.8 L804.3 200.5 L805.3 202.3 L806.2 204.1 L807.2 205.9 L808.1 207.7 L809.0 209.6 L809.8 211.4 L810.7 213.3 L811.5 215.2 L812.2 217.1 L813.0 218.9 L813.7 220.8 L814.4 222.8 L815.0 224.7 L815.6 226.6 L816.2 228.5 L816.7 230.4 L817.2 232.3 L817.7 234.2 L818.2 236.2 L818.6 238.1 L819.0 240.0 L819.3 241.8 L819.6 243.7 L819.9 245.6 L820.1 247.5 L820.3 249.3 L820.5 251.2 L820.6 253.0 L820.7 254.8 L820.8 256.6 L820.8 258.3 L820.8 260.1 L820.7 261.8 L820.6 263.5 L820.5 265.2 L820.4 266.8 L820.2 268.4 L819.9 270.1 L819.7 271.6 L819.4 273.2 L819.0 274.7 L818.6 276.1 L818.2 277.6 L817.8 279.0 L817.3 280.4 L816.8 281.7 L816.3 283.0 L815.7 284.3 L815.1 285.5 L814.5 286.7 L813.8 287.9 L813.1 289.0 L812.3 290.1 L811.6 291.1 L810.8 292.1 L810.0 293.0 L809.1 293.9 L808.2 294.8 L807.3 295.6 L806.4 296.3 L805.4 297.0 L804.4 297.7 L801.4 299.7 L800.4 300.3 L799.4 300.9 L798.3 301.4 L797.3 301.9 L796.1 302.3 L795.0 302.7 L793.9 303.0 L792.7 303.3 L791.5 303.5 L790.3 303.7 L789.1 303.8 L787.9 303.9 L786.6 303.9 L785.4 303.9 L784.1 303.8 L782.8 303.7 L781.5 303.5 L780.2 303.3 L778.9 303.0 L777.5 302.7 L776.2 302.3 L774.8 301.9 L773.5 301.4 L772.1 300.9 L770.8 300.3 L769.4 299.7 L768.0 299.1 L766.6 298.3 L765.3 297.6 L763.9 296.8 L762.5 295.9 L761.1 295.0 L759.8 294.1 L758.4 293.1 L757.0 292.1 L755.7 291.0 L754.4 289.9 L753.0 288.8 L751.7 287.6 L750.4 286.3 L749.0 285.1 L747.8 283.8 L746.5 282.4 L745.2 281.0 L743.9 279.6 L742.7 278.2 L741.5 276.7 L740.2 275.2 L739.0 273.6 L737.9 272.1 L736.7 270.5 L735.6 268.9 L734.5 267.2 L733.4 265.5 L732.3 263.8 L731.2 262.1 L730.2 260.4 L729.2 258.6 L728.2 256.8 L727.3 255.0 L726.4 253.2 L725.5 251.4 L724.6 249.5 L723.8 247.7 L722.9 245.8 L722.1 243.9 L721.4 242.0 L720.7 240.1 L720.0 238.2 L719.3 236.3 L718.7 234.4 L718.1 232.5 L717.5 230.5 L717.0 228.6 L716.5 226.7 L716.0 224.8 L715.6 222.9 L715.2 221.0 L714.9 219.1 L714.5 217.2 L714.2 215.3 L714.0 213.5 L713.8 211.6 L713.6 209.8 L713.4 207.9 L713.3 206.1 L713.2 204.3 L713.2 202.6Z" fill="#050505" stroke="none" stroke-width="1.00"/>
<ellipse cx="765.8" cy="231.0" rx="64.5" ry="34.4" transform="rotate(62.0 765.8 231.0)" fill="#fff" stroke="none" stroke-width="1.00" />
<path d="M760.0 173.1 L760.8 173.5 L761.7 173.9 L762.6 174.4 L763.5 174.8 L764.4 175.3 L765.3 175.9 L766.2 176.4 L767.2 177.0 L768.1 177.6 L769.0 178.2 L769.9 178.8 L770.8 179.5 L771.7 180.2 L772.6 180.9 L773.5 181.6 L774.4 182.3 L775.3 183.1 L776.2 183.9 L777.1 184.7 L777.9 185.5 L778.8 186.4 L779.7 187.3 L780.6 188.2 L781.4 189.1 L782.3 190.0 L783.1 190.9 L784.0 191.9 L784.8 192.9 L785.7 193.9 L786.5 194.9 L787.3 195.9 L788.1 196.9 L788.9 198.0 L789.7 199.0 L790.5 200.1 L791.2 201.2 L792.0 202.3 L792.7 203.4 L793.5 204.6 L794.2 205.7 L794.9 206.9 L795.6 208.0 L796.3 209.2 L797.0 210.4 L797.7 211.6 L798.3 212.7 L798.9 214.0 L799.6 215.2 L800.2 216.4 L800.8 217.6 L801.4 218.8 L801.9 220.1 L802.5 221.3 L803.0 222.5 L803.5 223.8 L804.0 225.0 L804.5 226.3 L805.0 227.5 L805.5 228.8 L805.9 230.0 L806.3 231.3 L806.7 232.5 L807.1 233.8 L807.5 235.0 L807.8 236.3 L808.2 237.5 L808.5 238.7 L808.8 240.0 L809.1 241.2 L809.3 242.4 L809.6 243.6 L809.8 244.8 L810.0 246.1 L810.2 247.2 L810.4 248.4 L810.5 249.6 L810.7 250.8 L810.8 251.9 L810.9 253.1 L811.0 254.2 L811.0 255.4 L811.1 256.5 L811.1 257.6 L811.1 258.7 L811.1 259.8 L811.0 260.8 L811.0 261.9 L810.9 262.9 L810.8 263.9 L810.7 264.9 L810.6 265.9 L810.4 266.9 L810.2 267.9 L810.0 268.8 L809.8 269.7 L809.6 270.6 L809.4 271.5 L809.1 272.4 L808.8 273.3 L808.5 274.1 L808.2 274.9 L807.9 275.7 L807.5 276.5 L807.1 277.2 L806.8 277.9 L806.4 278.6 L805.9 279.3 L805.5 280.0 L805.0 280.6 L804.6 281.2 L804.1 281.8 L803.6 282.4 L803.0 282.9 L802.5 283.5 L802.0 284.0 L801.4 284.4 L800.8 284.9 L800.2 285.3 L799.6 285.7" fill="none" stroke="#fff" stroke-width="1.20"/>
<path d="M633.0 247.9 L633.1 246.1 L633.2 244.4 L633.3 242.7 L633.4 241.0 L633.6 239.3 L633.8 237.7 L634.1 236.1 L634.4 234.5 L634.7 232.9 L635.1 231.4 L635.5 229.9 L635.9 228.4 L636.3 227.0 L636.8 225.6 L637.4 224.2 L637.9 222.8 L638.5 221.6 L639.1 220.3 L639.8 219.1 L640.5 217.9 L641.2 216.8 L641.9 215.7 L642.7 214.6 L643.5 213.6 L644.3 212.6 L645.2 211.7 L646.1 210.8 L647.0 209.9 L647.9 209.1 L648.9 208.4 L649.9 207.7 L650.9 207.0 L651.9 206.4 L653.0 205.8 L654.1 205.3 L673.1 196.3 L674.2 195.8 L675.3 195.4 L676.4 195.1 L677.6 194.8 L678.8 194.5 L680.0 194.2 L681.2 194.1 L682.4 194.0 L683.6 193.9 L684.9 193.9 L686.2 193.9 L687.4 194.0 L688.7 194.1 L690.0 194.3 L691.3 194.5 L692.6 194.8 L694.0 195.1 L695.3 195.5 L696.6 195.9 L698.0 196.4 L699.3 196.9 L700.7 197.5 L702.0 198.1 L703.4 198.8 L704.8 199.5 L706.1 200.3 L707.5 201.1 L708.8 201.9 L710.1 202.8 L711.5 203.8 L712.8 204.8 L714.1 205.8 L715.5 206.8 L716.8 208.0 L718.1 209.1 L719.4 210.3 L720.6 211.5 L721.9 212.8 L723.2 214.1 L724.4 215.4 L725.6 216.8 L726.9 218.2 L728.0 219.7 L729.2 221.1 L730.4 222.7 L731.5 224.2 L732.7 225.8 L733.8 227.3 L734.9 229.0 L735.9 230.6 L737.0 232.3 L738.0 234.0 L739.0 235.7 L739.9 237.4 L740.9 239.2 L741.8 241.0 L742.7 242.8 L743.5 244.6 L744.4 246.4 L745.2 248.3 L746.0 250.1 L746.7 252.0 L747.4 253.8 L748.1 255.7 L748.8 257.6 L749.4 259.5 L750.0 261.4 L750.6 263.3 L751.1 265.2 L751.6 267.2 L752.1 269.1 L752.5 271.0 L752.9 272.9 L753.2 274.8 L753.6 276.7 L753.9 278.6 L754.1 280.4 L754.4 282.3 L754.5 284.2 L754.7 286.0 L754.8 287.8 L754.9 289.7 L754.9 291.5 L755.0 293.2 L754.9 295.0 L754.9 296.8 L754.8 298.5 L754.6 300.2 L754.5 301.9 L754.3 303.5 L754.0 305.1 L753.8 306.8 L753.5 308.3 L753.1 309.9 L752.8 311.4 L752.3 312.9 L751.9 314.3 L751.4 315.8 L750.9 317.1 L750.4 318.5 L749.8 319.8 L749.2 321.1 L748.6 322.3 L747.9 323.5 L747.2 324.7 L746.5 325.8 L745.7 326.9 L744.9 327.9 L744.1 328.9 L743.2 329.9 L742.4 330.8 L741.5 331.7 L740.5 332.5 L739.6 333.2 L738.6 334.0 L737.6 334.7 L736.6 335.3 L735.5 335.9 L734.5 336.4 L715.5 345.4 L714.4 345.9 L713.3 346.4 L712.1 346.8 L711.0 347.1 L709.8 347.4 L708.6 347.6 L707.4 347.8 L706.2 348.0 L705.0 348.1 L703.7 348.1 L702.5 348.1 L701.2 348.1 L699.9 348.0 L698.6 347.8 L697.3 347.6 L696.0 347.3 L694.7 347.0 L693.4 346.7 L692.0 346.3 L690.7 345.8 L689.3 345.3 L688.0 344.8 L686.6 344.2 L685.3 343.5 L683.9 342.9 L682.6 342.1 L681.2 341.3 L679.9 340.5 L678.5 339.6 L677.2 338.7 L675.9 337.7 L674.5 336.7 L673.2 335.7 L671.9 334.6 L670.6 333.5 L669.3 332.3 L668.0 331.1 L666.7 329.8 L665.5 328.6 L664.2 327.2 L663.0 325.9 L661.8 324.5 L660.5 323.1 L659.4 321.6 L658.2 320.1 L657.0 318.6 L655.9 317.0 L654.8 315.4 L653.7 313.8 L652.6 312.2 L651.6 310.6 L650.5 308.9 L649.5 307.2 L648.5 305.4 L647.6 303.7 L646.7 301.9 L645.8 300.1 L644.9 298.3 L644.0 296.5 L643.2 294.7 L642.4 292.8 L641.7 290.9 L640.9 289.1 L640.2 287.2 L639.5 285.3 L638.9 283.4 L638.3 281.5 L637.7 279.6 L637.2 277.7 L636.6 275.8 L636.2 273.9 L635.7 272.0 L635.3 270.1 L634.9 268.2 L634.6 266.3 L634.3 264.4 L634.0 262.5 L633.8 260.6 L633.5 258.8 L633.4 256.9 L633.2 255.1 L633.1 253.2 L633.1 251.4 L633.0 249.7Z" fill="#050505" stroke="none" stroke-width="1.00"/>
<ellipse cx="684.5" cy="275.5" rx="76.5" ry="45.5" transform="rotate(67.0 684.5 275.5)" fill="#fff" stroke="#050505" stroke-width="1.00" />
<ellipse cx="686.6" cy="275.4" rx="67.3" ry="41.0" transform="rotate(66.0 686.6 275.4)" fill="none" stroke="#050505" stroke-width="0.80" />
<ellipse cx="686.6" cy="275.4" rx="64.1" ry="39.0" transform="rotate(66.0 686.6 275.4)" fill="#050505" stroke="#050505" stroke-width="1.00" />
<g clip-path="url(#c2)">
<ellipse cx="701.6" cy="263.4" rx="64.1" ry="39.0" transform="rotate(66.0 701.6 263.4)" fill="#fff" stroke="none" stroke-width="1.00" />
</g>
<path d="M687.7 221.3 L688.4 221.6 L689.0 222.0 L689.7 222.3 L690.4 222.7 L691.0 223.1 L691.7 223.5 L692.4 223.9 L693.0 224.3 L693.7 224.8 L694.4 225.2 L695.0 225.7 L695.7 226.2 L696.4 226.7 L697.0 227.2 L697.7 227.7 L698.3 228.2 L699.0 228.7 L699.6 229.3 L700.3 229.9 L700.9 230.4 L701.5 231.0 L702.2 231.6 L702.8 232.2 L703.4 232.9 L704.1 233.5 L704.7 234.1 L705.3 234.8 L705.9 235.5 L706.5 236.1 L707.1 236.8 L707.7 237.5 L708.3 238.2 L708.9 238.9 L709.4 239.7 L710.0 240.4 L710.6 241.1 L711.1 241.9 L711.7 242.7 L712.2 243.4 L712.8 244.2 L713.3 245.0 L713.8 245.8 L714.4 246.6 L714.9 247.4 L715.4 248.2 L715.9 249.0 L716.4 249.9 L716.9 250.7 L717.3 251.6 L717.8 252.4 L718.3 253.3 L718.7 254.1 L719.2 255.0 L719.6 255.9 L720.0 256.7 L720.4 257.6 L720.9 258.5 L721.3 259.4 L721.6 260.3 L722.0 261.2 L722.4 262.1 L722.8 263.0 L723.1 263.9 L723.5 264.8 L723.8 265.7 L724.1 266.6 L724.5 267.5 L724.8 268.5 L725.1 269.4 L725.4 270.3 L725.6 271.2 L725.9 272.1 L726.2 273.1 L726.4 274.0 L726.7 274.9 L726.9 275.8 L727.1 276.8 L727.3 277.7 L727.5 278.6 L727.7 279.5 L727.9 280.4 L728.0 281.4 L728.2 282.3 L728.3 283.2 L728.5 284.1 L728.6 285.0 L728.7 285.9 L728.8 286.8 L728.9 287.7 L729.0 288.6 L729.0 289.5 L729.1 290.4 L729.1 291.3 L729.2 292.1 L729.2 293.0 L729.2 293.9 L729.2 294.7 L729.2 295.6 L729.2 296.4 L729.1 297.3 L729.1 298.1 L729.1 299.0 L729.0 299.8 L728.9 300.6 L728.8 301.4 L728.7 302.2 L728.6 303.0 L728.5 303.8 L728.4 304.6 L728.2 305.4 L728.1 306.1 L727.9 306.9 L727.8 307.6 L727.6 308.4 L727.4 309.1 L727.2 309.8 L727.0 310.5 L726.7 311.2 L726.5 311.9" fill="none" stroke="#050505" stroke-width="1.00"/>
<path d="M551.1 289.4 L551.2 287.7 L551.2 285.9 L551.3 284.2 L551.4 282.5 L551.6 280.9 L551.8 279.2 L552.0 277.6 L552.3 276.0 L552.6 274.4 L553.0 272.9 L553.4 271.4 L553.8 269.9 L554.3 268.5 L554.8 267.1 L555.3 265.8 L555.9 264.4 L556.5 263.1 L557.1 261.9 L557.8 260.7 L559.4 257.8 L560.2 256.5 L561.0 255.3 L561.8 254.1 L562.7 253.0 L563.6 251.9 L564.5 250.8 L565.5 249.8 L566.5 248.9 L567.5 248.0 L568.6 247.1 L569.7 246.3 L570.8 245.6 L572.0 244.8 L573.1 244.2 L574.3 243.6 L575.6 243.0 L576.8 242.5 L578.1 242.0 L579.4 241.6 L580.7 241.3 L582.0 241.0 L583.4 240.7 L584.8 240.5 L586.2 240.4 L587.6 240.3 L589.0 240.3 L590.5 240.3 L592.0 240.3 L593.4 240.5 L594.9 240.6 L596.4 240.9 L597.9 241.2 L599.4 241.5 L601.0 241.9 L602.5 242.3 L604.0 242.8 L605.6 243.3 L607.1 243.9 L608.7 244.6 L610.2 245.3 L611.8 246.0 L613.3 246.8 L614.9 247.7 L616.4 248.5 L618.0 249.5 L619.5 250.4 L621.0 251.5 L622.6 252.6 L624.1 253.7 L625.6 254.8 L627.1 256.0 L628.6 257.3 L630.1 258.6 L631.5 259.9 L633.0 261.3 L634.4 262.7 L635.8 264.1 L637.2 265.6 L638.6 267.1 L640.0 268.7 L641.3 270.3 L642.6 271.9 L643.9 273.6 L645.2 275.2 L646.5 276.9 L647.7 278.7 L648.9 280.4 L650.1 282.2 L651.2 284.0 L652.4 285.9 L653.5 287.7 L654.5 289.6 L655.6 291.5 L656.6 293.4 L657.5 295.4 L658.5 297.3 L659.4 299.3 L660.3 301.2 L661.1 303.2 L661.9 305.2 L662.7 307.2 L663.4 309.2 L664.1 311.2 L664.8 313.3 L665.4 315.3 L666.0 317.3 L666.6 319.3 L667.1 321.4 L667.5 323.4 L668.0 325.4 L668.4 327.4 L668.7 329.4 L669.0 331.4 L669.3 333.4 L669.6 335.3 L669.8 337.3 L669.9 339.2 L670.0 341.2 L670.1 343.1 L670.1 345.0 L670.1 346.9 L670.1 348.7 L670.0 350.6 L669.9 352.4 L669.7 354.1 L669.5 355.9 L669.2 357.6 L668.9 359.4 L668.6 361.0 L668.2 362.7 L667.8 364.3 L667.4 365.9 L666.9 367.4 L666.4 368.9 L665.8 370.4 L665.2 371.9 L664.5 373.3 L663.9 374.6 L663.2 375.9 L662.4 377.2 L661.6 378.5 L660.8 379.7 L660.0 380.8 L659.1 382.0 L658.1 383.0 L657.2 384.1 L656.2 385.0 L655.2 386.0 L654.1 386.8 L653.0 387.7 L652.0 388.5 L650.8 389.2 L649.6 389.9 L648.5 390.5 L647.2 391.1 L646.0 391.6 L644.8 392.1 L643.5 392.6 L642.1 392.9 L640.8 393.3 L639.5 393.6 L638.1 393.8 L636.7 393.9 L635.3 394.1 L633.9 394.1 L632.4 394.1 L631.0 394.1 L629.5 394.0 L628.0 393.9 L626.5 393.6 L625.0 393.4 L623.5 393.1 L622.0 392.7 L620.5 392.3 L618.9 391.9 L617.4 391.3 L615.9 390.8 L614.3 390.1 L612.8 389.5 L611.2 388.8 L609.6 388.0 L608.1 387.2 L606.5 386.3 L605.0 385.4 L603.5 384.4 L601.9 383.4 L600.4 382.4 L598.9 381.3 L596.2 379.3 L594.8 378.2 L593.4 377.1 L592.0 375.9 L590.6 374.7 L589.2 373.5 L587.9 372.2 L586.5 370.9 L585.2 369.6 L583.9 368.2 L582.5 366.8 L581.2 365.3 L580.0 363.8 L578.7 362.3 L577.5 360.8 L576.3 359.2 L575.1 357.6 L573.9 355.9 L572.7 354.3 L571.6 352.6 L570.5 350.9 L569.4 349.2 L568.4 347.4 L567.3 345.7 L566.3 343.9 L565.3 342.1 L564.4 340.2 L563.5 338.4 L562.6 336.5 L561.7 334.7 L560.9 332.8 L560.1 330.9 L559.3 329.0 L558.6 327.1 L557.9 325.2 L557.2 323.3 L556.5 321.4 L555.9 319.4 L555.4 317.5 L554.8 315.6 L554.3 313.7 L553.9 311.7 L553.4 309.8 L553.0 307.9 L552.7 306.0 L552.4 304.1 L552.1 302.2 L551.8 300.4 L551.6 298.5 L551.5 296.7 L551.3 294.8 L551.2 293.0 L551.2 291.2Z" fill="#050505" stroke="none" stroke-width="1.00"/>
<ellipse cx="605.7" cy="318.0" rx="78.3" ry="46.9" transform="rotate(63.6 605.7 318.0)" fill="#fff" stroke="#050505" stroke-width="1.00" />
<ellipse cx="602.9" cy="321.6" rx="69.9" ry="40.2" transform="rotate(61.8 602.9 321.6)" fill="none" stroke="#050505" stroke-width="0.90" />
<ellipse cx="601.6" cy="318.4" rx="59.8" ry="36.6" transform="rotate(60.9 601.6 318.4)" fill="#050505" stroke="#050505" stroke-width="1.00" />
<g clip-path="url(#c3)">
<ellipse cx="611.6" cy="314.9" rx="59.8" ry="36.6" transform="rotate(60.9 611.6 314.9)" fill="#fff" stroke="none" stroke-width="1.00" />
</g>
<path d="M394.5 373.6 L394.6 372.0 L394.6 370.4 L394.8 368.8 L394.9 367.3 L395.1 365.7 L395.3 364.2 L395.6 362.7 L395.9 361.3 L396.2 359.9 L396.6 358.5 L396.9 357.1 L397.4 355.8 L397.8 354.5 L398.3 353.3 L398.9 352.1 L399.4 350.9 L400.1 349.7 L400.7 348.6 L401.4 347.6 L402.0 346.5 L402.8 345.6 L403.5 344.6 L404.3 343.7 L405.1 342.9 L406.0 342.0 L406.9 341.3 L407.8 340.5 L408.7 339.9 L409.7 339.2 L410.6 338.6 L490.8 291.9 L491.8 291.3 L492.9 290.8 L494.0 290.3 L495.1 289.9 L496.3 289.5 L497.5 289.2 L498.6 288.9 L499.9 288.7 L501.1 288.5 L502.4 288.4 L503.6 288.3 L504.9 288.3 L506.2 288.3 L507.5 288.4 L508.9 288.5 L510.2 288.7 L511.6 288.9 L513.0 289.2 L514.4 289.5 L515.8 289.9 L517.1 290.3 L518.6 290.8 L520.0 291.3 L521.4 291.9 L522.8 292.5 L524.3 293.2 L525.7 293.9 L527.2 294.7 L528.6 295.5 L530.0 296.3 L531.5 297.2 L532.9 298.2 L534.4 299.1 L535.8 300.2 L537.2 301.2 L538.6 302.4 L540.1 303.5 L541.5 304.7 L542.9 305.9 L544.3 307.2 L545.6 308.5 L547.0 309.8 L548.4 311.2 L549.7 312.6 L551.0 314.1 L552.4 315.5 L553.6 317.1 L554.9 318.6 L556.2 320.2 L557.4 321.8 L558.6 323.4 L559.9 325.0 L561.0 326.7 L562.2 328.4 L563.3 330.1 L564.4 331.9 L565.5 333.6 L566.6 335.4 L567.6 337.2 L568.6 339.0 L569.6 340.9 L570.6 342.7 L571.5 344.6 L572.4 346.4 L573.2 348.3 L574.1 350.2 L574.9 352.1 L575.7 354.0 L576.4 355.9 L577.1 357.8 L577.8 359.7 L578.4 361.6 L579.0 363.6 L579.6 365.5 L580.1 367.4 L580.6 369.3 L581.1 371.2 L581.5 373.1 L581.9 375.0 L582.3 376.8 L582.6 378.7 L582.9 380.6 L583.1 382.4 L583.3 384.2 L583.5 386.0 L583.6 387.8 L583.7 389.6 L583.8 391.3 L583.8 393.1 L583.8 394.8 L583.7 396.4 L583.6 398.1 L583.5 399.8 L583.3 401.4 L583.1 402.9 L582.8 404.5 L582.5 406.0 L582.2 407.5 L581.9 409.0 L581.5 410.4 L581.0 411.8 L580.6 413.1 L580.1 414.5 L579.5 415.7 L579.0 417.0 L578.4 418.2 L577.7 419.4 L577.0 420.5 L576.3 421.6 L575.6 422.6 L574.8 423.6 L574.0 424.6 L573.2 425.5 L572.3 426.4 L571.4 427.2 L570.5 428.0 L569.5 428.7 L568.5 429.4 L567.5 430.0 L566.5 430.6 L565.4 431.2 L482.4 472.6 L481.4 473.1 L480.3 473.5 L479.2 473.9 L478.1 474.2 L477.0 474.5 L475.8 474.7 L474.6 474.9 L473.4 475.1 L472.2 475.2 L471.0 475.2 L469.7 475.2 L468.5 475.1 L467.2 475.1 L465.9 474.9 L464.6 474.7 L463.3 474.5 L462.0 474.2 L460.6 473.8 L459.3 473.5 L457.9 473.0 L456.6 472.5 L455.2 472.0 L453.8 471.4 L452.4 470.8 L451.1 470.2 L449.7 469.4 L448.3 468.7 L446.9 467.9 L445.5 467.1 L444.1 466.2 L442.7 465.2 L441.4 464.3 L440.0 463.3 L438.6 462.2 L437.2 461.1 L435.9 460.0 L434.5 458.9 L433.2 457.7 L431.9 456.4 L430.5 455.1 L429.2 453.8 L427.9 452.5 L426.6 451.1 L425.4 449.7 L424.1 448.3 L422.9 446.8 L421.7 445.3 L420.5 443.8 L419.3 442.2 L418.1 440.7 L417.0 439.1 L415.8 437.5 L414.7 435.8 L413.7 434.1 L412.6 432.5 L411.6 430.8 L410.6 429.0 L409.6 427.3 L408.6 425.5 L407.7 423.8 L406.8 422.0 L405.9 420.2 L405.1 418.4 L404.2 416.6 L403.5 414.8 L402.7 412.9 L402.0 411.1 L401.3 409.3 L400.6 407.4 L400.0 405.6 L399.4 403.8 L398.8 401.9 L398.3 400.1 L397.8 398.2 L397.3 396.4 L396.9 394.6 L396.5 392.8 L396.2 391.0 L395.8 389.2 L395.5 387.4 L395.3 385.6 L395.1 383.9 L394.9 382.1 L394.8 380.4 L394.6 378.7 L394.6 377.0 L394.5 375.3Z" fill="#050505" stroke="none" stroke-width="1.00"/>
<g clip-path="url(#c4)">
<path d="M425.6 329.9 L426.6 329.4 L427.7 328.9 L428.8 328.5 L429.9 328.1 L431.0 327.8 L432.1 327.5 L433.3 327.2 L434.5 327.0 L435.7 326.9 L437.0 326.8 L438.2 326.8 L439.5 326.8 L440.7 326.8 L442.0 326.9 L443.3 327.1 L444.7 327.3 L446.0 327.5 L447.3 327.8 L448.7 328.2 L450.1 328.6 L451.4 329.0 L452.8 329.5 L454.2 330.0 L455.6 330.6 L457.0 331.2 L458.4 331.9 L459.8 332.6 L461.2 333.4 L462.6 334.2 L464.0 335.1 L465.4 336.0 L466.8 336.9 L468.2 337.9 L469.6 338.9 L471.0 340.0 L472.3 341.1 L473.7 342.2 L475.1 343.4 L476.4 344.6 L477.8 345.9 L479.1 347.2 L480.4 348.5 L481.7 349.9 L483.0 351.3 L484.3 352.7 L485.6 354.2 L486.8 355.6 L488.1 357.2 L489.3 358.7 L490.5 360.3 L491.6 361.9 L492.8 363.5 L493.9 365.1 L495.0 366.8 L496.1 368.5 L497.2 370.2 L498.2 371.9 L499.2 373.7 L500.2 375.4 L501.2 377.2 L502.1 379.0 L503.0 380.8 L503.9 382.6 L504.8 384.5 L505.6 386.3 L506.4 388.1 L507.1 390.0 L507.8 391.8 L508.5 393.7 L509.2 395.6 L509.8 397.4 L510.4 399.3 L511.0 401.1 L511.5 403.0 L512.0 404.9 L512.5 406.7 L512.9 408.5 L513.3 410.4 L513.6 412.2 L513.9 414.0 L514.2 415.8 L514.5 417.6 L514.7 419.4 L514.8 421.1 L515.0 422.9 L515.1 424.6 L515.1 426.3 L515.1 428.0 L515.1 429.7 L515.1 431.3 L515.0 432.9 L514.9 434.5 L514.7 436.1 L514.5 437.6 L514.3 439.1 L514.0 440.6 L513.7 442.1 L513.3 443.5 L512.9 444.9 L512.5 446.2 L512.1 447.6 L511.6 448.9 L511.1 450.1 L510.5 451.3 L509.9 452.5 L509.3 453.6 L508.6 454.7 L508.0 455.8 L507.2 456.8 L506.5 457.8 L505.7 458.7 L504.9 459.6 L504.0 460.5 L503.2 461.3 L502.3 462.0 L501.3 462.7 L500.4 463.4 L499.4 464.0 L498.4 464.6" fill="none" stroke="#fff" stroke-width="4.50"/>
<path d="M451.6 314.7 L452.7 314.2 L453.8 313.7 L454.9 313.3 L456.0 312.9 L457.1 312.5 L458.3 312.2 L459.5 312.0 L460.7 311.8 L461.9 311.7 L463.1 311.6 L464.4 311.5 L465.7 311.5 L467.0 311.6 L468.3 311.7 L469.6 311.8 L471.0 312.0 L472.3 312.3 L473.7 312.6 L475.0 312.9 L476.4 313.3 L477.8 313.8 L479.2 314.3 L480.6 314.8 L482.0 315.4 L483.4 316.1 L484.8 316.7 L486.3 317.5 L487.7 318.2 L489.1 319.1 L490.5 319.9 L491.9 320.8 L493.4 321.8 L494.8 322.8 L496.2 323.8 L497.6 324.9 L499.0 326.0 L500.4 327.2 L501.8 328.4 L503.1 329.6 L504.5 330.9 L505.8 332.2 L507.2 333.6 L508.5 334.9 L509.8 336.3 L511.1 337.8 L512.4 339.3 L513.7 340.8 L514.9 342.3 L516.1 343.9 L517.4 345.5 L518.5 347.1 L519.7 348.7 L520.9 350.4 L522.0 352.1 L523.1 353.8 L524.2 355.5 L525.2 357.3 L526.2 359.0 L527.2 360.8 L528.2 362.6 L529.2 364.4 L530.1 366.3 L531.0 368.1 L531.8 370.0 L532.7 371.8 L533.4 373.7 L534.2 375.6 L535.0 377.4 L535.7 379.3 L536.3 381.2 L537.0 383.1 L537.6 385.0 L538.1 386.9 L538.7 388.7 L539.2 390.6 L539.6 392.5 L540.1 394.4 L540.4 396.2 L540.8 398.1 L541.1 399.9 L541.4 401.7 L541.6 403.5 L541.9 405.3 L542.0 407.1 L542.2 408.9 L542.3 410.6 L542.3 412.4 L542.3 414.1 L542.3 415.8 L542.3 417.4 L542.2 419.1 L542.1 420.7 L541.9 422.3 L541.7 423.8 L541.4 425.3 L541.2 426.8 L540.9 428.3 L540.5 429.8 L540.1 431.2 L539.7 432.5 L539.2 433.9 L538.7 435.2 L538.2 436.5 L537.7 437.7 L537.1 438.9 L536.4 440.0 L535.8 441.1 L535.1 442.2 L534.3 443.2 L533.6 444.2 L532.8 445.2 L532.0 446.1 L531.1 446.9 L530.2 447.8 L529.3 448.5 L528.4 449.2 L527.4 449.9 L526.4 450.6 L525.4 451.1" fill="none" stroke="#fff" stroke-width="5.50"/>
<path d="M468.9 304.7 L469.9 304.1 L471.0 303.6 L472.1 303.2 L473.2 302.8 L474.4 302.5 L475.6 302.2 L476.8 301.9 L478.0 301.7 L479.2 301.6 L480.5 301.5 L481.8 301.4 L483.0 301.4 L484.3 301.5 L485.7 301.6 L487.0 301.7 L488.4 301.9 L489.7 302.2 L491.1 302.5 L492.5 302.9 L493.9 303.3 L495.3 303.7 L496.7 304.2 L498.1 304.8 L499.5 305.4 L500.9 306.0 L502.4 306.7 L503.8 307.4 L505.2 308.2 L506.7 309.0 L508.1 309.9 L509.5 310.8 L510.9 311.8 L512.4 312.8 L513.8 313.9 L515.2 314.9 L516.6 316.1 L518.0 317.2 L519.4 318.4 L520.8 319.7 L522.2 321.0 L523.5 322.3 L524.9 323.7 L526.2 325.0 L527.5 326.5 L528.9 327.9 L530.1 329.4 L531.4 330.9 L532.7 332.5 L533.9 334.1 L535.1 335.7 L536.3 337.3 L537.5 339.0 L538.7 340.6 L539.8 342.3 L540.9 344.1 L542.0 345.8 L543.1 347.6 L544.1 349.4 L545.1 351.2 L546.1 353.0 L547.0 354.8 L548.0 356.7 L548.9 358.5 L549.7 360.4 L550.6 362.2 L551.4 364.1 L552.1 366.0 L552.9 367.9 L553.6 369.8 L554.3 371.7 L554.9 373.6 L555.5 375.5 L556.1 377.4 L556.6 379.3 L557.1 381.2 L557.6 383.1 L558.0 385.0 L558.4 386.8 L558.8 388.7 L559.1 390.6 L559.4 392.4 L559.6 394.2 L559.9 396.0 L560.0 397.8 L560.2 399.6 L560.3 401.4 L560.3 403.1 L560.3 404.8 L560.3 406.5 L560.3 408.2 L560.2 409.9 L560.0 411.5 L559.9 413.1 L559.7 414.7 L559.4 416.2 L559.2 417.7 L558.8 419.2 L558.5 420.7 L558.1 422.1 L557.7 423.5 L557.2 424.8 L556.7 426.1 L556.2 427.4 L555.6 428.7 L555.0 429.9 L554.4 431.0 L553.7 432.1 L553.0 433.2 L552.3 434.3 L551.5 435.3 L550.7 436.2 L549.9 437.1 L549.0 438.0 L548.1 438.8 L547.2 439.6 L546.2 440.3 L545.3 441.0 L544.3 441.6 L543.2 442.2" fill="none" stroke="#fff" stroke-width="5.00"/>
<path d="M487.9 327.9 L488.8 328.5 L489.6 329.2 L490.5 329.8 L491.3 330.5 L492.1 331.2 L493.0 331.9 L493.8 332.6 L494.6 333.4 L495.4 334.1 L496.2 334.9 L497.0 335.6 L497.9 336.4 L498.7 337.2 L499.5 338.0 L500.3 338.8 L501.0 339.7 L501.8 340.5 L502.6 341.4 L503.4 342.3 L504.1 343.1 L504.9 344.0 L505.7 344.9 L506.4 345.8 L507.2 346.8 L507.9 347.7 L508.6 348.6 L509.3 349.6 L510.1 350.6 L510.8 351.5 L511.5 352.5 L512.2 353.5 L512.8 354.5 L513.5 355.5 L514.2 356.5 L514.8 357.5 L515.5 358.6 L516.1 359.6 L516.8 360.6 L517.4 361.7 L518.0 362.7 L518.6 363.8 L519.2 364.9 L519.8 366.0 L520.4 367.0 L520.9 368.1 L521.5 369.2 L522.1 370.3 L522.6 371.4 L523.1 372.5 L523.6 373.6 L524.1 374.7 L524.6 375.8 L525.1 376.9 L525.6 378.1 L526.0 379.2 L526.5 380.3 L526.9 381.4 L527.4 382.5 L527.8 383.7 L528.2 384.8 L528.6 385.9 L528.9 387.0 L529.3 388.2 L529.7 389.3 L530.0 390.4 L530.3 391.5 L530.7 392.7 L531.0 393.8 L531.3 394.9 L531.5 396.0 L531.8 397.2 L532.1 398.3 L532.3 399.4 L532.5 400.5 L532.7 401.6 L532.9 402.7 L533.1 403.8 L533.3 404.9 L533.5 406.0 L533.6 407.1 L533.8 408.1 L533.9 409.2 L534.0 410.3 L534.1 411.3 L534.2 412.4 L534.2 413.5 L534.3 414.5 L534.3 415.5 L534.4 416.6 L534.4 417.6 L534.4 418.6 L534.4 419.6 L534.4 420.6 L534.3 421.6 L534.3 422.6 L534.2 423.6 L534.1 424.5 L534.0 425.5 L533.9 426.4 L533.8 427.3 L533.7 428.3 L533.5 429.2 L533.4 430.1 L533.2 431.0 L533.0 431.9 L532.8 432.7 L532.6 433.6 L532.4 434.4 L532.1 435.3 L531.9 436.1 L531.6 436.9 L531.4 437.7 L531.1 438.5 L530.8 439.3 L530.5 440.0 L530.1 440.8 L529.8 441.5 L529.4 442.2 L529.1 442.9" fill="none" stroke="#fff" stroke-width="2.20"/>
</g>
<path d="M482.7 472.8 L480.9 473.7 L479.1 474.5 L477.3 475.1 L475.5 475.6 L473.7 476.0 L471.9 476.3 L470.0 476.5 L468.1 476.6 L466.2 476.5 L464.2 476.4 L462.3 476.1 L460.3 475.7 L458.3 475.3 L456.3 474.7 L454.3 474.0 L452.2 473.2 L450.2 472.3 L448.2 471.3 L446.1 470.1 L444.1 468.9 L442.0 467.6 L440.0 466.2 L438.0 464.7 L435.9 463.1 L433.9 461.4 L432.0 459.7 L430.0 457.8 L428.0 455.8 L426.1 453.8 L424.2 451.7 L422.3 449.5 L420.5 447.2 L418.7 444.9 L416.9 442.4 L415.2 439.9 L413.4 437.3 L411.8 434.7 L410.1 431.9 L408.4 429.0 L406.7 425.8 L405.1 422.8 L403.7 419.9 L402.3 417.0 L401.1 414.1 L399.9 411.3 L398.8 408.5 L397.8 405.6 L396.8 402.8 L396.0 400.1 L395.2 397.3 L394.5 394.6 L393.9 391.9 L393.4 389.2 L392.9 386.5 L392.6 383.9 L392.3 381.3 L392.1 378.8 L392.0 376.3 L392.0 373.8 L392.0 371.4 L392.2 369.1 L392.4 366.8 L392.7 364.6 L393.1 362.4 L393.6 360.3 L394.2 358.3 L394.8 356.3 L395.6 354.4 L396.4 352.6 L397.3 350.8 L398.3 349.1 L399.3 347.6 L400.4 346.1 L401.6 344.6 L402.9 343.3 L404.3 342.0 L405.8 340.9 L407.3 339.8 L409.0 338.7 L410.9 337.7 L412.6 336.9 L414.4 336.2 L416.2 335.6 L418.0 335.2 L419.8 334.8 L421.7 334.6 L423.5 334.4 L425.5 334.4 L427.4 334.5 L429.3 334.7 L431.3 335.1 L433.3 335.5 L435.3 336.0 L437.3 336.7 L439.3 337.4 L441.4 338.3 L443.4 339.2 L445.5 340.3 L447.5 341.4 L449.6 342.7 L451.6 344.1 L453.6 345.5 L455.7 347.1 L457.7 348.7 L459.7 350.4 L461.6 352.3 L463.6 354.2 L465.5 356.2 L467.4 358.2 L469.3 360.4 L471.2 362.6 L473.0 365.0 L474.8 367.4 L476.6 369.8 L478.3 372.4 L480.0 375.0 L481.7 377.7 L483.3 380.5 L485.0 383.5 L486.7 386.7 L488.2 389.7 L489.6 392.6 L490.9 395.4 L492.1 398.3 L493.3 401.1 L494.3 403.9 L495.3 406.8 L496.2 409.5 L497.0 412.3 L497.8 415.1 L498.4 417.8 L499.0 420.5 L499.5 423.1 L499.9 425.8 L500.2 428.4 L500.4 430.9 L500.6 433.5 L500.6 435.9 L500.6 438.4 L500.5 440.7 L500.3 443.1 L500.0 445.3 L499.7 447.5 L499.2 449.7 L498.7 451.7 L498.1 453.7 L497.4 455.7 L496.6 457.5 L495.8 459.3 L494.8 461.0 L493.8 462.7 L492.7 464.2 L491.6 465.7 L490.3 467.1 L489.0 468.4 L487.6 469.6 L486.1 470.7 L484.5 471.8Z" fill="#fff" stroke="#050505" stroke-width="1.00" />
<path d="M473.8 458.0 L471.8 459.0 L470.1 459.8 L468.5 460.4 L467.0 460.9 L465.6 461.3 L464.1 461.7 L462.7 461.9 L461.2 462.0 L459.8 462.1 L458.3 462.0 L456.9 461.9 L455.4 461.7 L454.0 461.4 L452.6 461.1 L451.1 460.6 L449.7 460.1 L448.2 459.5 L446.8 458.8 L445.4 458.1 L443.9 457.2 L442.5 456.3 L441.1 455.3 L439.6 454.3 L438.2 453.1 L436.8 451.9 L435.4 450.6 L434.0 449.2 L432.6 447.8 L431.2 446.3 L429.8 444.7 L428.5 443.0 L427.1 441.2 L425.7 439.4 L424.3 437.4 L423.0 435.4 L421.6 433.2 L420.2 430.9 L418.7 428.4 L417.1 425.6 L415.1 421.8 L413.4 418.7 L412.1 416.0 L410.8 413.5 L409.7 411.1 L408.7 408.8 L407.8 406.6 L407.0 404.4 L406.2 402.3 L405.5 400.2 L404.9 398.1 L404.4 396.1 L403.9 394.1 L403.5 392.2 L403.1 390.3 L402.8 388.4 L402.6 386.6 L402.5 384.8 L402.4 383.0 L402.4 381.3 L402.4 379.6 L402.6 378.0 L402.8 376.4 L403.0 374.8 L403.3 373.3 L403.7 371.8 L404.2 370.4 L404.7 369.0 L405.3 367.7 L405.9 366.4 L406.6 365.2 L407.4 364.0 L408.3 362.8 L409.3 361.7 L410.3 360.6 L411.4 359.6 L412.6 358.6 L413.9 357.6 L415.3 356.7 L417.0 355.7 L419.3 354.4 L421.1 353.6 L422.7 352.9 L424.2 352.3 L425.7 351.8 L427.2 351.5 L428.6 351.2 L430.1 351.0 L431.5 350.9 L433.0 350.9 L434.4 351.0 L435.8 351.2 L437.3 351.4 L438.7 351.7 L440.2 352.1 L441.6 352.6 L443.0 353.2 L444.5 353.8 L445.9 354.5 L447.4 355.3 L448.8 356.2 L450.2 357.2 L451.6 358.2 L453.1 359.3 L454.5 360.5 L455.9 361.7 L457.3 363.1 L458.7 364.5 L460.1 366.0 L461.5 367.5 L462.9 369.2 L464.2 370.9 L465.6 372.7 L467.0 374.6 L468.3 376.6 L469.7 378.7 L471.1 380.9 L472.5 383.3 L474.0 385.9 L475.8 389.0 L477.8 392.8 L479.3 395.7 L480.6 398.3 L481.7 400.7 L482.8 403.0 L483.7 405.3 L484.6 407.5 L485.4 409.7 L486.1 411.8 L486.8 413.9 L487.4 415.9 L487.9 417.9 L488.3 419.9 L488.7 421.8 L489.0 423.7 L489.3 425.5 L489.5 427.3 L489.6 429.1 L489.6 430.8 L489.6 432.5 L489.5 434.2 L489.3 435.8 L489.1 437.4 L488.8 438.9 L488.5 440.4 L488.1 441.9 L487.6 443.3 L487.0 444.6 L486.4 446.0 L485.7 447.2 L485.0 448.4 L484.1 449.6 L483.2 450.8 L482.2 451.9 L481.2 452.9 L480.0 453.9 L478.8 454.9 L477.4 455.8 L475.9 456.8Z" fill="#050505" stroke="none" stroke-width="1.00" />
<path d="M351.4 216.5 Q355.2 211.8 359 216.5 L357.8 385 Q354.2 390.5 350.5 385 Z" fill="#050505"/>
<ellipse cx="355.4" cy="215.8" rx="2.6" ry="1.3" transform="rotate(0.0 355.4 215.8)" fill="#fff" stroke="none" stroke-width="1.00" />
<path d="M294.5 443.1 L294.5 441.8 L294.6 440.5 L294.6 439.2 L294.7 437.9 L294.9 436.6 L295.0 435.4 L295.2 434.2 L295.4 433.0 L295.6 431.8 L295.9 430.7 L296.2 429.6 L296.5 428.5 L296.8 427.4 L297.2 426.4 L297.6 425.4 L298.0 424.4 L298.4 423.4 L298.9 422.5 L299.4 421.6 L299.9 420.8 L300.4 419.9 L301.0 419.1 L301.6 418.4 L302.2 417.6 L302.8 417.0 L303.4 416.3 L304.1 415.7 L304.8 415.1 L305.5 414.5 L306.2 414.0 L307.0 413.5 L307.7 413.1 L308.5 412.7 L309.3 412.3 L345.4 397.2 L346.2 396.8 L347.1 396.5 L347.9 396.3 L348.8 396.1 L349.7 395.9 L350.6 395.7 L351.5 395.6 L352.4 395.5 L353.3 395.5 L354.2 395.5 L355.2 395.5 L356.1 395.6 L357.1 395.7 L358.1 395.9 L359.1 396.1 L360.1 396.3 L361.1 396.5 L362.1 396.8 L363.1 397.2 L364.1 397.5 L365.1 397.9 L366.1 398.4 L367.1 398.9 L368.1 399.4 L369.2 399.9 L370.2 400.5 L371.2 401.1 L372.2 401.8 L373.2 402.4 L374.3 403.1 L375.3 403.9 L376.3 404.7 L377.3 405.5 L378.3 406.3 L379.2 407.2 L380.2 408.1 L381.2 409.0 L382.2 409.9 L383.1 410.9 L384.1 411.9 L385.0 413.0 L385.9 414.0 L386.8 415.1 L387.7 416.2 L388.6 417.4 L389.5 418.5 L390.4 419.7 L391.2 420.9 L392.0 422.1 L392.9 423.3 L393.6 424.6 L394.4 425.8 L395.2 427.1 L395.9 428.4 L396.7 429.7 L397.4 431.1 L398.1 432.4 L398.7 433.8 L399.4 435.1 L400.0 436.5 L400.6 437.9 L401.2 439.3 L401.7 440.7 L402.3 442.1 L402.8 443.5 L403.3 444.9 L403.8 446.3 L404.2 447.7 L404.6 449.1 L405.0 450.6 L405.4 452.0 L405.7 453.4 L406.0 454.8 L406.3 456.2 L406.6 457.6 L406.8 459.0 L407.1 460.4 L407.2 461.8 L407.4 463.2 L407.5 464.6 L407.6 465.9 L407.7 467.3 L407.8 468.6 L407.8 469.9 L407.8 471.2 L407.8 472.5 L407.7 473.8 L407.7 475.1 L407.6 476.3 L407.4 477.5 L407.3 478.7 L407.1 479.9 L406.9 481.1 L406.6 482.2 L406.4 483.3 L406.1 484.4 L405.8 485.5 L405.4 486.5 L405.1 487.6 L404.7 488.6 L404.3 489.5 L403.8 490.5 L403.4 491.4 L402.9 492.2 L402.4 493.1 L401.8 493.9 L401.3 494.7 L400.7 495.5 L400.1 496.2 L399.5 496.9 L398.8 497.6 L398.2 498.2 L397.5 498.8 L396.8 499.4 L396.1 499.9 L395.3 500.4 L394.6 500.8 L360.6 520.7 L359.9 521.1 L359.1 521.5 L358.3 521.9 L357.4 522.2 L356.6 522.5 L355.7 522.7 L354.9 522.9 L354.0 523.0 L353.1 523.2 L352.1 523.2 L351.2 523.3 L350.3 523.3 L349.3 523.2 L348.4 523.2 L347.4 523.1 L346.4 522.9 L345.4 522.7 L344.4 522.5 L343.4 522.2 L342.4 521.9 L341.4 521.6 L340.4 521.2 L339.3 520.8 L338.3 520.3 L337.3 519.8 L336.2 519.3 L335.2 518.7 L334.2 518.1 L333.1 517.5 L332.1 516.8 L331.1 516.1 L330.0 515.4 L329.0 514.6 L327.9 513.8 L326.9 513.0 L325.9 512.1 L324.9 511.2 L323.9 510.3 L322.9 509.3 L321.9 508.3 L320.9 507.3 L319.9 506.2 L319.0 505.2 L318.0 504.1 L317.1 502.9 L316.1 501.8 L315.2 500.6 L314.3 499.4 L313.4 498.2 L312.5 496.9 L311.7 495.7 L310.8 494.4 L310.0 493.1 L309.2 491.8 L308.4 490.4 L307.6 489.1 L306.8 487.7 L306.1 486.3 L305.4 484.9 L304.7 483.5 L304.0 482.1 L303.3 480.7 L302.7 479.2 L302.1 477.8 L301.4 476.3 L300.9 474.9 L300.3 473.4 L299.8 471.9 L299.3 470.5 L298.8 469.0 L298.3 467.5 L297.9 466.0 L297.5 464.5 L297.1 463.1 L296.8 461.6 L296.4 460.1 L296.1 458.6 L295.8 457.2 L295.6 455.7 L295.4 454.3 L295.1 452.9 L295.0 451.4 L294.8 450.0 L294.7 448.6 L294.6 447.2 L294.6 445.8 L294.5 444.5Z" fill="#fff" stroke="#050505" stroke-width="1.20"/>
<path d="M314.1 410.4 L314.9 410.1 L315.7 409.9 L316.6 409.7 L317.4 409.6 L318.3 409.5 L319.1 409.4 L320.0 409.3 L320.9 409.3 L321.8 409.4 L322.7 409.4 L323.7 409.5 L324.6 409.7 L325.5 409.8 L326.5 410.0 L327.5 410.3 L328.4 410.5 L329.4 410.8 L330.4 411.2 L331.3 411.6 L332.3 412.0 L333.3 412.4 L334.3 412.9 L335.3 413.4 L336.3 414.0 L337.2 414.5 L338.2 415.1 L339.2 415.8 L340.2 416.4 L341.2 417.1 L342.2 417.9 L343.2 418.6 L344.1 419.4 L345.1 420.3 L346.1 421.1 L347.0 422.0 L348.0 422.9 L348.9 423.8 L349.9 424.8 L350.8 425.7 L351.7 426.8 L352.6 427.8 L353.5 428.8 L354.4 429.9 L355.3 431.0 L356.2 432.1 L357.1 433.3 L357.9 434.4 L358.7 435.6 L359.6 436.8 L360.4 438.1 L361.2 439.3 L361.9 440.5 L362.7 441.8 L363.4 443.1 L364.2 444.4 L364.9 445.7 L365.6 447.0 L366.3 448.4 L366.9 449.7 L367.6 451.1 L368.2 452.4 L368.8 453.8 L369.4 455.2 L369.9 456.6 L370.5 457.9 L371.0 459.3 L371.5 460.7 L372.0 462.1 L372.4 463.6 L372.9 465.0 L373.3 466.4 L373.7 467.8 L374.0 469.2 L374.4 470.6 L374.7 472.0 L375.0 473.4 L375.2 474.8 L375.5 476.1 L375.7 477.5 L375.9 478.9 L376.1 480.3 L376.2 481.6 L376.4 482.9 L376.5 484.3 L376.5 485.6 L376.6 486.9 L376.6 488.2 L376.6 489.5 L376.6 490.7 L376.5 492.0 L376.5 493.2 L376.4 494.4 L376.3 495.6 L376.1 496.8 L375.9 497.9 L375.7 499.1 L375.5 500.2 L375.3 501.3 L375.0 502.4 L374.7 503.4 L374.4 504.4 L374.1 505.4 L373.7 506.4 L373.3 507.3 L372.9 508.3 L372.5 509.2 L372.0 510.0 L371.6 510.9 L371.1 511.7 L370.5 512.5 L370.0 513.2 L369.4 513.9 L368.9 514.6 L368.3 515.3 L367.7 515.9 L367.0 516.5 L366.4 517.1 L365.7 517.6 L365.0 518.1" fill="none" stroke="#111" stroke-width="1.30"/>
<path d="M317.4 409.0 L318.2 408.7 L319.0 408.5 L319.8 408.3 L320.7 408.2 L321.5 408.1 L322.4 408.0 L323.3 408.0 L324.2 407.9 L325.1 408.0 L326.0 408.0 L326.9 408.1 L327.9 408.3 L328.8 408.4 L329.8 408.6 L330.7 408.9 L331.7 409.1 L332.6 409.4 L333.6 409.8 L334.6 410.2 L335.6 410.6 L336.6 411.0 L337.5 411.5 L338.5 412.0 L339.5 412.5 L340.5 413.1 L341.5 413.7 L342.5 414.3 L343.5 415.0 L344.4 415.7 L345.4 416.4 L346.4 417.2 L347.4 418.0 L348.3 418.8 L349.3 419.6 L350.3 420.5 L351.2 421.4 L352.2 422.3 L353.1 423.3 L354.0 424.3 L355.0 425.3 L355.9 426.3 L356.8 427.3 L357.7 428.4 L358.5 429.5 L359.4 430.6 L360.3 431.8 L361.1 432.9 L362.0 434.1 L362.8 435.3 L363.6 436.5 L364.4 437.7 L365.1 439.0 L365.9 440.3 L366.6 441.5 L367.4 442.8 L368.1 444.1 L368.8 445.4 L369.4 446.8 L370.1 448.1 L370.7 449.5 L371.4 450.8 L372.0 452.2 L372.5 453.6 L373.1 454.9 L373.6 456.3 L374.2 457.7 L374.7 459.1 L375.1 460.5 L375.6 461.9 L376.0 463.3 L376.4 464.7 L376.8 466.1 L377.2 467.5 L377.5 468.9 L377.8 470.3 L378.1 471.7 L378.4 473.1 L378.6 474.5 L378.9 475.8 L379.0 477.2 L379.2 478.6 L379.4 479.9 L379.5 481.2 L379.6 482.6 L379.7 483.9 L379.7 485.2 L379.7 486.5 L379.7 487.7 L379.7 489.0 L379.7 490.2 L379.6 491.5 L379.5 492.7 L379.4 493.9 L379.2 495.0 L379.0 496.2 L378.8 497.3 L378.6 498.4 L378.4 499.5 L378.1 500.6 L377.8 501.6 L377.5 502.7 L377.2 503.6 L376.8 504.6 L376.4 505.6 L376.0 506.5 L375.6 507.4 L375.1 508.2 L374.6 509.1 L374.2 509.9 L373.6 510.7 L373.1 511.4 L372.5 512.1 L372.0 512.8 L371.4 513.5 L370.7 514.1 L370.1 514.7 L369.4 515.3 L368.8 515.8 L368.1 516.3" fill="none" stroke="#111" stroke-width="1.30"/>
<path d="M320.6 407.6 L321.5 407.4 L322.3 407.1 L323.1 407.0 L324.0 406.8 L324.8 406.7 L325.7 406.6 L326.6 406.6 L327.5 406.6 L328.4 406.6 L329.3 406.6 L330.2 406.7 L331.2 406.9 L332.1 407.0 L333.0 407.2 L334.0 407.5 L334.9 407.7 L335.9 408.0 L336.9 408.4 L337.9 408.8 L338.8 409.2 L339.8 409.6 L340.8 410.1 L341.8 410.6 L342.8 411.1 L343.8 411.7 L344.7 412.3 L345.7 412.9 L346.7 413.6 L347.7 414.3 L348.7 415.0 L349.6 415.7 L350.6 416.5 L351.6 417.3 L352.5 418.2 L353.5 419.0 L354.5 419.9 L355.4 420.9 L356.3 421.8 L357.3 422.8 L358.2 423.8 L359.1 424.8 L360.0 425.8 L360.9 426.9 L361.8 428.0 L362.6 429.1 L363.5 430.2 L364.3 431.4 L365.2 432.6 L366.0 433.8 L366.8 435.0 L367.6 436.2 L368.3 437.4 L369.1 438.7 L369.8 440.0 L370.6 441.3 L371.3 442.6 L372.0 443.9 L372.6 445.2 L373.3 446.5 L373.9 447.9 L374.5 449.2 L375.1 450.6 L375.7 452.0 L376.3 453.3 L376.8 454.7 L377.3 456.1 L377.8 457.5 L378.3 458.9 L378.7 460.3 L379.2 461.7 L379.6 463.1 L380.0 464.5 L380.3 465.9 L380.7 467.2 L381.0 468.6 L381.3 470.0 L381.5 471.4 L381.8 472.8 L382.0 474.1 L382.2 475.5 L382.4 476.8 L382.5 478.2 L382.6 479.5 L382.7 480.8 L382.8 482.2 L382.8 483.5 L382.9 484.7 L382.9 486.0 L382.8 487.3 L382.8 488.5 L382.7 489.7 L382.6 490.9 L382.5 492.1 L382.3 493.3 L382.2 494.4 L382.0 495.6 L381.7 496.7 L381.5 497.8 L381.2 498.8 L380.9 499.9 L380.6 500.9 L380.3 501.9 L379.9 502.8 L379.5 503.8 L379.1 504.7 L378.7 505.6 L378.2 506.4 L377.7 507.3 L377.2 508.1 L376.7 508.9 L376.2 509.6 L375.6 510.3 L375.0 511.0 L374.4 511.7 L373.8 512.3 L373.2 512.9 L372.5 513.5 L371.9 514.0 L371.2 514.5" fill="none" stroke="#111" stroke-width="1.30"/>
<path d="M323.9 406.2 L324.7 406.0 L325.6 405.8 L326.4 405.6 L327.2 405.4 L328.1 405.3 L329.0 405.2 L329.9 405.2 L330.8 405.2 L331.7 405.2 L332.6 405.3 L333.5 405.4 L334.4 405.5 L335.4 405.6 L336.3 405.8 L337.3 406.1 L338.2 406.3 L339.2 406.6 L340.1 407.0 L341.1 407.3 L342.1 407.7 L343.1 408.2 L344.1 408.7 L345.0 409.2 L346.0 409.7 L347.0 410.3 L348.0 410.8 L349.0 411.5 L350.0 412.1 L350.9 412.8 L351.9 413.5 L352.9 414.3 L353.9 415.1 L354.8 415.9 L355.8 416.7 L356.7 417.6 L357.7 418.5 L358.6 419.4 L359.6 420.3 L360.5 421.3 L361.4 422.3 L362.3 423.3 L363.2 424.3 L364.1 425.4 L365.0 426.5 L365.8 427.6 L366.7 428.7 L367.5 429.9 L368.4 431.0 L369.2 432.2 L370.0 433.4 L370.8 434.7 L371.5 435.9 L372.3 437.1 L373.0 438.4 L373.8 439.7 L374.5 441.0 L375.2 442.3 L375.8 443.6 L376.5 444.9 L377.1 446.3 L377.7 447.6 L378.3 449.0 L378.9 450.3 L379.4 451.7 L380.0 453.1 L380.5 454.5 L381.0 455.9 L381.4 457.2 L381.9 458.6 L382.3 460.0 L382.7 461.4 L383.1 462.8 L383.5 464.2 L383.8 465.6 L384.1 467.0 L384.4 468.3 L384.7 469.7 L384.9 471.1 L385.1 472.4 L385.3 473.8 L385.5 475.1 L385.6 476.5 L385.7 477.8 L385.8 479.1 L385.9 480.4 L386.0 481.7 L386.0 483.0 L386.0 484.3 L385.9 485.5 L385.9 486.8 L385.8 488.0 L385.7 489.2 L385.6 490.4 L385.4 491.5 L385.3 492.7 L385.1 493.8 L384.8 494.9 L384.6 496.0 L384.3 497.0 L384.0 498.1 L383.7 499.1 L383.4 500.1 L383.0 501.1 L382.6 502.0 L382.2 502.9 L381.8 503.8 L381.3 504.7 L380.8 505.5 L380.3 506.3 L379.8 507.1 L379.3 507.8 L378.7 508.5 L378.1 509.2 L377.5 509.9 L376.9 510.5 L376.3 511.1 L375.6 511.6 L374.9 512.2 L374.2 512.7" fill="none" stroke="#111" stroke-width="1.30"/>
<path d="M327.2 404.9 L328.0 404.6 L328.8 404.4 L329.7 404.2 L330.5 404.1 L331.4 403.9 L332.2 403.9 L333.1 403.8 L334.0 403.8 L334.9 403.8 L335.8 403.9 L336.8 404.0 L337.7 404.1 L338.6 404.3 L339.6 404.4 L340.5 404.7 L341.5 404.9 L342.4 405.2 L343.4 405.6 L344.4 405.9 L345.4 406.3 L346.3 406.8 L347.3 407.2 L348.3 407.7 L349.3 408.3 L350.3 408.8 L351.2 409.4 L352.2 410.0 L353.2 410.7 L354.2 411.4 L355.2 412.1 L356.1 412.8 L357.1 413.6 L358.1 414.4 L359.0 415.3 L360.0 416.1 L360.9 417.0 L361.9 417.9 L362.8 418.8 L363.7 419.8 L364.6 420.8 L365.5 421.8 L366.4 422.8 L367.3 423.9 L368.2 425.0 L369.1 426.1 L369.9 427.2 L370.8 428.4 L371.6 429.5 L372.4 430.7 L373.2 431.9 L374.0 433.1 L374.7 434.3 L375.5 435.6 L376.2 436.8 L376.9 438.1 L377.7 439.4 L378.3 440.7 L379.0 442.0 L379.7 443.3 L380.3 444.7 L380.9 446.0 L381.5 447.4 L382.1 448.7 L382.6 450.1 L383.1 451.5 L383.7 452.8 L384.1 454.2 L384.6 455.6 L385.1 457.0 L385.5 458.4 L385.9 459.8 L386.3 461.1 L386.6 462.5 L386.9 463.9 L387.3 465.3 L387.5 466.7 L387.8 468.0 L388.0 469.4 L388.3 470.8 L388.5 472.1 L388.6 473.4 L388.8 474.8 L388.9 476.1 L389.0 477.4 L389.0 478.7 L389.1 480.0 L389.1 481.3 L389.1 482.5 L389.1 483.8 L389.0 485.0 L388.9 486.2 L388.8 487.4 L388.7 488.6 L388.5 489.8 L388.4 490.9 L388.2 492.0 L387.9 493.1 L387.7 494.2 L387.4 495.3 L387.1 496.3 L386.8 497.3 L386.5 498.3 L386.1 499.3 L385.7 500.2 L385.3 501.1 L384.9 502.0 L384.4 502.9 L383.9 503.7 L383.4 504.5 L382.9 505.3 L382.4 506.0 L381.8 506.7 L381.2 507.4 L380.6 508.1 L380.0 508.7 L379.4 509.3 L378.7 509.8 L378.0 510.4 L377.3 510.9" fill="none" stroke="#111" stroke-width="1.30"/>
<path d="M330.5 403.5 L331.3 403.2 L332.1 403.0 L332.9 402.8 L333.8 402.7 L334.7 402.6 L335.5 402.5 L336.4 402.4 L337.3 402.4 L338.2 402.4 L339.1 402.5 L340.0 402.6 L341.0 402.7 L341.9 402.9 L342.8 403.1 L343.8 403.3 L344.8 403.5 L345.7 403.8 L346.7 404.2 L347.6 404.5 L348.6 404.9 L349.6 405.4 L350.6 405.8 L351.6 406.3 L352.5 406.8 L353.5 407.4 L354.5 408.0 L355.5 408.6 L356.5 409.3 L357.4 409.9 L358.4 410.7 L359.4 411.4 L360.3 412.2 L361.3 413.0 L362.3 413.8 L363.2 414.6 L364.2 415.5 L365.1 416.4 L366.0 417.4 L367.0 418.3 L367.9 419.3 L368.8 420.3 L369.7 421.3 L370.5 422.4 L371.4 423.5 L372.3 424.6 L373.1 425.7 L374.0 426.8 L374.8 428.0 L375.6 429.2 L376.4 430.4 L377.2 431.6 L377.9 432.8 L378.7 434.0 L379.4 435.3 L380.1 436.6 L380.8 437.8 L381.5 439.1 L382.2 440.4 L382.8 441.8 L383.5 443.1 L384.1 444.4 L384.7 445.8 L385.2 447.1 L385.8 448.5 L386.3 449.8 L386.8 451.2 L387.3 452.6 L387.8 454.0 L388.2 455.3 L388.6 456.7 L389.0 458.1 L389.4 459.5 L389.8 460.9 L390.1 462.2 L390.4 463.6 L390.7 465.0 L390.9 466.3 L391.2 467.7 L391.4 469.1 L391.6 470.4 L391.7 471.7 L391.9 473.1 L392.0 474.4 L392.1 475.7 L392.2 477.0 L392.2 478.3 L392.2 479.6 L392.2 480.8 L392.2 482.1 L392.1 483.3 L392.0 484.5 L391.9 485.7 L391.8 486.9 L391.7 488.0 L391.5 489.2 L391.3 490.3 L391.0 491.4 L390.8 492.4 L390.5 493.5 L390.2 494.5 L389.9 495.5 L389.6 496.5 L389.2 497.5 L388.8 498.4 L388.4 499.3 L387.9 500.2 L387.5 501.1 L387.0 501.9 L386.5 502.7 L386.0 503.5 L385.5 504.2 L384.9 504.9 L384.3 505.6 L383.7 506.3 L383.1 506.9 L382.4 507.5 L381.8 508.0 L381.1 508.6 L380.4 509.1" fill="none" stroke="#111" stroke-width="1.30"/>
<path d="M333.8 402.1 L334.6 401.9 L335.4 401.6 L336.2 401.4 L337.1 401.3 L337.9 401.2 L338.8 401.1 L339.7 401.0 L340.6 401.0 L341.5 401.0 L342.4 401.1 L343.3 401.2 L344.2 401.3 L345.2 401.5 L346.1 401.7 L347.1 401.9 L348.0 402.1 L349.0 402.4 L349.9 402.8 L350.9 403.1 L351.9 403.5 L352.9 403.9 L353.8 404.4 L354.8 404.9 L355.8 405.4 L356.8 406.0 L357.8 406.6 L358.7 407.2 L359.7 407.8 L360.7 408.5 L361.7 409.2 L362.6 409.9 L363.6 410.7 L364.5 411.5 L365.5 412.3 L366.5 413.2 L367.4 414.1 L368.3 415.0 L369.3 415.9 L370.2 416.8 L371.1 417.8 L372.0 418.8 L372.9 419.8 L373.8 420.9 L374.6 422.0 L375.5 423.1 L376.3 424.2 L377.2 425.3 L378.0 426.5 L378.8 427.6 L379.6 428.8 L380.4 430.0 L381.1 431.2 L381.9 432.5 L382.6 433.7 L383.3 435.0 L384.0 436.3 L384.7 437.6 L385.4 438.9 L386.0 440.2 L386.6 441.5 L387.3 442.8 L387.8 444.2 L388.4 445.5 L389.0 446.9 L389.5 448.2 L390.0 449.6 L390.5 451.0 L390.9 452.3 L391.4 453.7 L391.8 455.1 L392.2 456.5 L392.6 457.8 L392.9 459.2 L393.2 460.6 L393.5 461.9 L393.8 463.3 L394.1 464.7 L394.3 466.0 L394.5 467.4 L394.7 468.7 L394.9 470.0 L395.0 471.4 L395.1 472.7 L395.2 474.0 L395.3 475.3 L395.3 476.6 L395.3 477.8 L395.3 479.1 L395.3 480.3 L395.2 481.5 L395.2 482.7 L395.0 483.9 L394.9 485.1 L394.8 486.3 L394.6 487.4 L394.4 488.5 L394.1 489.6 L393.9 490.7 L393.6 491.7 L393.3 492.8 L393.0 493.8 L392.7 494.7 L392.3 495.7 L391.9 496.6 L391.5 497.5 L391.0 498.4 L390.6 499.3 L390.1 500.1 L389.6 500.9 L389.1 501.7 L388.5 502.4 L388.0 503.1 L387.4 503.8 L386.8 504.5 L386.2 505.1 L385.5 505.7 L384.9 506.2 L384.2 506.8 L383.5 507.3" fill="none" stroke="#111" stroke-width="1.30"/>
<path d="M337.0 400.7 L337.8 400.5 L338.7 400.3 L339.5 400.1 L340.3 399.9 L341.2 399.8 L342.1 399.7 L343.0 399.7 L343.8 399.6 L344.8 399.7 L345.7 399.7 L346.6 399.8 L347.5 399.9 L348.4 400.1 L349.4 400.3 L350.3 400.5 L351.3 400.7 L352.2 401.0 L353.2 401.4 L354.2 401.7 L355.1 402.1 L356.1 402.5 L357.1 403.0 L358.1 403.5 L359.1 404.0 L360.0 404.5 L361.0 405.1 L362.0 405.7 L363.0 406.4 L363.9 407.1 L364.9 407.8 L365.9 408.5 L366.8 409.3 L367.8 410.0 L368.7 410.9 L369.7 411.7 L370.6 412.6 L371.6 413.5 L372.5 414.4 L373.4 415.4 L374.3 416.3 L375.2 417.3 L376.1 418.3 L377.0 419.4 L377.9 420.5 L378.7 421.5 L379.6 422.7 L380.4 423.8 L381.2 424.9 L382.0 426.1 L382.8 427.3 L383.6 428.5 L384.3 429.7 L385.1 430.9 L385.8 432.2 L386.5 433.4 L387.2 434.7 L387.9 436.0 L388.6 437.3 L389.2 438.6 L389.8 439.9 L390.4 441.2 L391.0 442.6 L391.6 443.9 L392.1 445.3 L392.6 446.6 L393.2 448.0 L393.6 449.3 L394.1 450.7 L394.5 452.1 L395.0 453.4 L395.3 454.8 L395.7 456.2 L396.1 457.5 L396.4 458.9 L396.7 460.3 L397.0 461.6 L397.2 463.0 L397.5 464.3 L397.7 465.7 L397.9 467.0 L398.0 468.3 L398.1 469.7 L398.3 471.0 L398.3 472.3 L398.4 473.6 L398.4 474.8 L398.5 476.1 L398.4 477.3 L398.4 478.6 L398.4 479.8 L398.3 481.0 L398.2 482.2 L398.0 483.4 L397.9 484.5 L397.7 485.6 L397.5 486.7 L397.3 487.8 L397.0 488.9 L396.7 490.0 L396.4 491.0 L396.1 492.0 L395.7 493.0 L395.4 493.9 L395.0 494.9 L394.6 495.8 L394.1 496.6 L393.7 497.5 L393.2 498.3 L392.7 499.1 L392.2 499.9 L391.6 500.6 L391.1 501.3 L390.5 502.0 L389.9 502.7 L389.3 503.3 L388.6 503.9 L388.0 504.4 L387.3 505.0 L386.6 505.5" fill="none" stroke="#111" stroke-width="1.30"/>
<path d="M340.3 399.4 L341.1 399.1 L341.9 398.9 L342.8 398.7 L343.6 398.5 L344.5 398.4 L345.4 398.3 L346.2 398.3 L347.1 398.3 L348.0 398.3 L348.9 398.3 L349.9 398.4 L350.8 398.5 L351.7 398.7 L352.7 398.9 L353.6 399.1 L354.6 399.3 L355.5 399.6 L356.5 400.0 L357.4 400.3 L358.4 400.7 L359.4 401.1 L360.4 401.6 L361.3 402.1 L362.3 402.6 L363.3 403.1 L364.3 403.7 L365.2 404.3 L366.2 404.9 L367.2 405.6 L368.2 406.3 L369.1 407.0 L370.1 407.8 L371.0 408.6 L372.0 409.4 L372.9 410.2 L373.9 411.1 L374.8 412.0 L375.7 412.9 L376.6 413.9 L377.5 414.8 L378.4 415.8 L379.3 416.8 L380.2 417.9 L381.1 418.9 L381.9 420.0 L382.8 421.1 L383.6 422.3 L384.4 423.4 L385.2 424.6 L386.0 425.7 L386.8 426.9 L387.5 428.1 L388.3 429.4 L389.0 430.6 L389.7 431.9 L390.4 433.1 L391.1 434.4 L391.7 435.7 L392.4 437.0 L393.0 438.3 L393.6 439.6 L394.2 441.0 L394.8 442.3 L395.3 443.6 L395.8 445.0 L396.3 446.3 L396.8 447.7 L397.3 449.1 L397.7 450.4 L398.1 451.8 L398.5 453.1 L398.9 454.5 L399.2 455.9 L399.5 457.2 L399.8 458.6 L400.1 460.0 L400.4 461.3 L400.6 462.6 L400.8 464.0 L401.0 465.3 L401.1 466.6 L401.3 468.0 L401.4 469.3 L401.5 470.6 L401.5 471.8 L401.6 473.1 L401.6 474.4 L401.6 475.6 L401.5 476.8 L401.5 478.1 L401.4 479.3 L401.3 480.4 L401.1 481.6 L401.0 482.8 L400.8 483.9 L400.6 485.0 L400.4 486.1 L400.1 487.1 L399.8 488.2 L399.5 489.2 L399.2 490.2 L398.8 491.2 L398.5 492.1 L398.1 493.1 L397.7 494.0 L397.2 494.8 L396.8 495.7 L396.3 496.5 L395.8 497.3 L395.3 498.1 L394.7 498.8 L394.2 499.5 L393.6 500.2 L393.0 500.9 L392.3 501.5 L391.7 502.1 L391.0 502.6 L390.4 503.1 L389.7 503.6" fill="none" stroke="#111" stroke-width="1.30"/>
<path d="M343.6 398.0 L344.4 397.7 L345.2 397.5 L346.1 397.3 L346.9 397.2 L347.8 397.0 L348.6 397.0 L349.5 396.9 L350.4 396.9 L351.3 396.9 L352.2 396.9 L353.1 397.0 L354.1 397.1 L355.0 397.3 L355.9 397.5 L356.9 397.7 L357.8 397.9 L358.8 398.2 L359.7 398.6 L360.7 398.9 L361.7 399.3 L362.6 399.7 L363.6 400.2 L364.6 400.6 L365.6 401.1 L366.5 401.7 L367.5 402.3 L368.5 402.9 L369.5 403.5 L370.4 404.2 L371.4 404.9 L372.4 405.6 L373.3 406.4 L374.3 407.1 L375.2 407.9 L376.2 408.8 L377.1 409.6 L378.0 410.5 L379.0 411.4 L379.9 412.4 L380.8 413.4 L381.7 414.3 L382.6 415.3 L383.4 416.4 L384.3 417.4 L385.1 418.5 L386.0 419.6 L386.8 420.7 L387.6 421.9 L388.4 423.0 L389.2 424.2 L390.0 425.4 L390.7 426.6 L391.5 427.8 L392.2 429.0 L392.9 430.3 L393.6 431.6 L394.3 432.8 L394.9 434.1 L395.6 435.4 L396.2 436.7 L396.8 438.0 L397.4 439.4 L397.9 440.7 L398.5 442.0 L399.0 443.4 L399.5 444.7 L400.0 446.1 L400.4 447.4 L400.9 448.8 L401.3 450.1 L401.7 451.5 L402.0 452.9 L402.4 454.2 L402.7 455.6 L403.0 456.9 L403.3 458.3 L403.5 459.6 L403.7 461.0 L403.9 462.3 L404.1 463.6 L404.3 464.9 L404.4 466.2 L404.5 467.5 L404.6 468.8 L404.7 470.1 L404.7 471.4 L404.7 472.6 L404.7 473.9 L404.6 475.1 L404.6 476.3 L404.5 477.5 L404.4 478.7 L404.2 479.9 L404.1 481.0 L403.9 482.1 L403.7 483.2 L403.5 484.3 L403.2 485.4 L402.9 486.4 L402.6 487.4 L402.3 488.4 L401.9 489.4 L401.6 490.4 L401.2 491.3 L400.8 492.2 L400.3 493.1 L399.9 493.9 L399.4 494.7 L398.9 495.5 L398.4 496.3 L397.8 497.0 L397.2 497.7 L396.7 498.4 L396.1 499.1 L395.4 499.7 L394.8 500.3 L394.1 500.8 L393.5 501.3 L392.8 501.8" fill="none" stroke="#111" stroke-width="1.30"/>
<path d="M344.4 397.6 L345.2 397.2 L346.1 396.9 L346.9 396.6 L347.7 396.3 L348.6 396.1 L349.5 395.9 L350.4 395.7 L351.3 395.6 L352.2 395.5 L353.1 395.5 L354.1 395.5 L355.0 395.5 L356.0 395.6 L357.0 395.7 L357.9 395.8 L358.9 396.0 L359.9 396.2 L360.9 396.5 L361.9 396.8 L362.9 397.1 L363.9 397.5 L365.0 397.9 L366.0 398.3 L367.0 398.8 L368.0 399.3 L369.1 399.8 L370.1 400.4 L371.1 401.0 L372.1 401.7 L373.1 402.4 L374.2 403.1 L375.2 403.8 L376.2 404.6 L377.2 405.4 L378.2 406.2 L379.2 407.1 L380.2 408.0 L381.1 408.9 L382.1 409.9 L383.1 410.9 L384.0 411.9 L385.0 412.9 L385.9 414.0 L386.8 415.1 L387.7 416.2 L388.6 417.3 L389.5 418.5 L390.3 419.6 L391.2 420.8 L392.0 422.1 L392.8 423.3 L393.6 424.6 L394.4 425.8 L395.2 427.1 L395.9 428.4 L396.7 429.7 L397.4 431.1 L398.1 432.4 L398.7 433.8 L399.4 435.2 L400.0 436.5 L400.6 437.9 L401.2 439.3 L401.8 440.7 L402.3 442.1 L402.8 443.5 L403.3 445.0 L403.8 446.4 L404.2 447.8 L404.6 449.2 L405.0 450.7 L405.4 452.1 L405.7 453.5 L406.1 454.9 L406.4 456.3 L406.6 457.8 L406.9 459.2 L407.1 460.6 L407.3 462.0 L407.4 463.3 L407.6 464.7 L407.7 466.1 L407.7 467.4 L407.8 468.8 L407.8 470.1 L407.8 471.4 L407.8 472.7 L407.7 474.0 L407.7 475.2 L407.5 476.5 L407.4 477.7 L407.2 478.9 L407.1 480.1 L406.8 481.3 L406.6 482.4 L406.3 483.5 L406.0 484.6 L405.7 485.7 L405.4 486.7 L405.0 487.8 L404.6 488.7 L404.2 489.7 L403.7 490.7 L403.3 491.6 L402.8 492.4 L402.2 493.3 L401.7 494.1 L401.1 494.9 L400.6 495.7 L399.9 496.4 L399.3 497.1 L398.7 497.7 L398.0 498.4 L397.3 498.9 L396.6 499.5 L395.9 500.0 L395.1 500.5 L394.3 501.0 L393.6 501.4" fill="none" stroke="#111" stroke-width="1.30"/>
<path d="M219.0 466.0 L274.8 430.3 L307.7 413.1 L308.5 412.7 L309.3 412.3 L310.1 412.0 L311.0 411.7 L311.8 411.4 L312.7 411.2 L313.6 411.0 L314.5 410.9 L315.4 410.8 L316.3 410.7 L317.2 410.7 L318.2 410.7 L319.1 410.8 L320.1 410.9 L321.1 411.0 L322.1 411.2 L323.1 411.4 L324.1 411.6 L325.1 411.9 L326.1 412.2 L327.1 412.6 L328.1 413.0 L329.2 413.4 L330.2 413.9 L331.2 414.4 L332.3 415.0 L333.3 415.6 L334.4 416.2 L335.4 416.8 L336.4 417.5 L337.5 418.2 L338.5 419.0 L339.5 419.8 L340.6 420.6 L341.6 421.5 L342.6 422.4 L343.6 423.3 L344.6 424.2 L345.6 425.2 L346.6 426.2 L347.6 427.2 L348.6 428.3 L349.5 429.4 L350.5 430.5 L351.4 431.6 L352.3 432.8 L353.2 434.0 L354.1 435.2 L355.0 436.4 L355.9 437.7 L356.8 438.9 L357.6 440.2 L358.4 441.6 L359.2 442.9 L360.0 444.2 L360.8 445.6 L361.5 447.0 L362.3 448.4 L363.0 449.8 L363.7 451.2 L364.4 452.6 L365.0 454.0 L365.6 455.5 L366.3 456.9 L366.9 458.4 L367.4 459.9 L367.9 461.3 L368.5 462.8 L369.0 464.3 L369.4 465.8 L369.9 467.2 L370.3 468.7 L370.7 470.2 L371.1 471.7 L371.4 473.1 L371.7 474.6 L372.0 476.1 L372.3 477.5 L372.5 479.0 L372.8 480.4 L372.9 481.9 L373.1 483.3 L373.2 484.7 L373.3 486.1 L373.4 487.5 L373.5 488.9 L373.5 490.2 L373.5 491.5 L373.5 492.9 L373.4 494.2 L373.3 495.5 L373.2 496.7 L373.1 498.0 L372.9 499.2 L372.7 500.4 L372.5 501.6 L372.2 502.7 L372.0 503.9 L371.7 505.0 L371.4 506.1 L371.0 507.1 L370.6 508.1 L370.2 509.1 L369.8 510.1 L369.4 511.0 L368.9 511.9 L368.4 512.8 L367.9 513.6 L367.3 514.5 L366.7 515.2 L366.1 516.0 L365.5 516.7 L364.9 517.4 L364.2 518.0 L363.6 518.6 L362.9 519.2 L362.1 519.7 L361.4 520.2 L360.6 520.7 L359.9 521.1 L250.0 581.0Z" fill="#050505"/>
<ellipse cx="355.0" cy="406.5" rx="3.2" ry="2.6" transform="rotate(0.0 355.0 406.5)" fill="#050505" stroke="none" stroke-width="1.00" />
<path d="M153.0 504.0 L153.1 502.3 L153.1 500.7 L153.2 499.0 L153.3 497.4 L153.5 495.8 L153.7 494.3 L153.9 492.7 L154.2 491.2 L154.5 489.7 L154.9 488.3 L155.2 486.9 L155.7 485.5 L156.1 484.1 L156.6 482.8 L157.1 481.5 L157.7 480.3 L158.2 479.0 L158.9 477.9 L159.5 476.7 L160.2 475.6 L160.9 474.6 L161.7 473.5 L162.4 472.6 L163.2 471.6 L164.1 470.7 L164.9 469.9 L165.8 469.1 L166.7 468.3 L167.7 467.6 L168.7 466.9 L169.7 466.2 L170.7 465.7 L171.7 465.1 L172.8 464.6 L173.9 464.2 L175.0 463.8 L176.2 463.4 L177.3 463.1 L178.5 462.9 L179.7 462.7 L180.9 462.5 L182.1 462.4 L183.4 462.4 L184.7 462.4 L185.9 462.4 L199.0 463.1 L200.3 463.1 L201.6 463.3 L202.9 463.5 L204.2 463.7 L205.6 464.0 L206.9 464.3 L208.3 464.7 L209.7 465.1 L211.0 465.6 L212.4 466.1 L213.8 466.6 L215.2 467.3 L216.5 467.9 L217.9 468.6 L219.3 469.4 L220.7 470.1 L222.1 471.0 L223.5 471.9 L224.8 472.8 L226.2 473.7 L227.6 474.8 L229.0 475.8 L230.3 476.9 L231.7 478.0 L233.0 479.1 L234.3 480.4 L235.7 481.6 L237.0 482.9 L238.3 484.2 L239.6 485.5 L240.8 486.9 L242.1 488.3 L243.3 489.7 L244.5 491.2 L245.8 492.7 L246.9 494.2 L248.1 495.7 L249.2 497.3 L250.4 498.9 L251.5 500.5 L252.6 502.2 L253.6 503.9 L254.6 505.5 L255.7 507.2 L256.6 509.0 L257.6 510.7 L258.5 512.5 L259.4 514.2 L260.3 516.0 L261.1 517.8 L262.0 519.6 L262.8 521.5 L263.5 523.3 L264.2 525.1 L264.9 527.0 L265.6 528.8 L266.2 530.7 L266.8 532.5 L267.4 534.4 L267.9 536.2 L268.4 538.1 L268.9 539.9 L269.3 541.7 L269.7 543.6 L270.1 545.4 L270.4 547.2 L270.7 549.0 L270.9 550.8 L271.1 552.6 L271.3 554.4 L271.5 556.1 L271.6 557.9 L271.6 559.6 L271.7 561.3 L271.7 563.0 L271.6 564.7 L271.6 566.3 L271.4 568.0 L271.3 569.5 L271.1 571.1 L270.9 572.7 L270.6 574.2 L270.4 575.7 L270.0 577.1 L269.7 578.6 L269.3 580.0 L268.8 581.4 L268.4 582.7 L267.9 584.0 L267.3 585.3 L266.8 586.5 L266.2 587.7 L265.5 588.9 L264.9 590.0 L264.2 591.0 L263.4 592.1 L262.7 593.1 L261.9 594.0 L261.1 595.0 L260.2 595.8 L259.3 596.7 L258.4 597.5 L257.5 598.2 L256.5 598.9 L255.6 599.6 L254.5 600.2 L253.5 600.7 L252.4 601.2 L251.4 601.7 L250.3 602.1 L249.1 602.5 L248.0 602.8 L246.8 603.1 L245.6 603.3 L244.4 603.5 L243.2 603.6 L242.0 603.7 L240.7 603.8 L239.4 603.8 L226.5 603.4 L225.2 603.4 L223.9 603.3 L222.6 603.1 L221.3 602.9 L219.9 602.6 L218.6 602.3 L217.2 602.0 L215.9 601.6 L214.5 601.1 L213.2 600.6 L211.8 600.1 L210.4 599.5 L209.0 598.9 L207.6 598.2 L206.2 597.5 L204.8 596.7 L203.4 595.9 L202.1 595.0 L200.7 594.1 L199.3 593.2 L197.9 592.2 L196.6 591.2 L195.2 590.1 L193.8 589.0 L192.5 587.9 L191.1 586.7 L189.8 585.5 L188.5 584.2 L187.2 582.9 L185.9 581.6 L184.6 580.2 L183.3 578.8 L182.1 577.4 L180.9 576.0 L179.7 574.5 L178.4 573.0 L177.3 571.4 L176.1 569.8 L175.0 568.2 L173.9 566.6 L172.8 565.0 L171.7 563.3 L170.7 561.6 L169.6 559.9 L168.6 558.2 L167.7 556.5 L166.7 554.7 L165.8 553.0 L164.9 551.2 L164.0 549.4 L163.2 547.6 L162.4 545.7 L161.6 543.9 L160.9 542.1 L160.2 540.2 L159.5 538.4 L158.8 536.5 L158.2 534.7 L157.6 532.8 L157.1 531.0 L156.6 529.1 L156.1 527.3 L155.6 525.4 L155.2 523.6 L154.8 521.8 L154.5 519.9 L154.2 518.1 L153.9 516.3 L153.7 514.5 L153.5 512.7 L153.3 510.9 L153.2 509.2 L153.1 507.4 L153.1 505.7Z" fill="#050505" stroke="none" stroke-width="1.00"/>
<path d="M221.1 470.4 L221.9 470.9 L222.7 471.4 L223.6 471.9 L224.4 472.5 L225.2 473.0 L226.1 473.6 L226.9 474.2 L227.7 474.8 L228.5 475.5 L229.4 476.1 L230.2 476.8 L231.0 477.4 L231.8 478.1 L232.6 478.8 L233.4 479.5 L234.2 480.2 L235.0 481.0 L235.8 481.7 L236.6 482.5 L237.4 483.3 L238.2 484.1 L238.9 484.9 L239.7 485.7 L240.5 486.5 L241.2 487.3 L242.0 488.2 L242.7 489.0 L243.5 489.9 L244.2 490.8 L245.0 491.7 L245.7 492.6 L246.4 493.5 L247.1 494.4 L247.8 495.4 L248.5 496.3 L249.2 497.2 L249.9 498.2 L250.5 499.2 L251.2 500.2 L251.9 501.1 L252.5 502.1 L253.2 503.1 L253.8 504.2 L254.4 505.2 L255.0 506.2 L255.6 507.2 L256.2 508.3 L256.8 509.3 L257.4 510.4 L258.0 511.4 L258.5 512.5 L259.1 513.5 L259.6 514.6 L260.1 515.7 L260.6 516.8 L261.1 517.9 L261.6 518.9 L262.1 520.0 L262.6 521.1 L263.1 522.2 L263.5 523.3 L264.0 524.4 L264.4 525.5 L264.8 526.7 L265.2 527.8 L265.6 528.9 L266.0 530.0 L266.4 531.1 L266.7 532.2 L267.1 533.3 L267.4 534.4 L267.7 535.6 L268.0 536.7 L268.3 537.8 L268.6 538.9 L268.9 540.0 L269.2 541.1 L269.4 542.2 L269.6 543.3 L269.9 544.4 L270.1 545.5 L270.3 546.6 L270.5 547.7 L270.6 548.8 L270.8 549.9 L270.9 551.0 L271.1 552.1 L271.2 553.1 L271.3 554.2 L271.4 555.3 L271.5 556.3 L271.5 557.4 L271.6 558.4 L271.6 559.5 L271.7 560.5 L271.7 561.5 L271.7 562.5 L271.7 563.5 L271.6 564.5 L271.6 565.5 L271.5 566.5 L271.5 567.5 L271.4 568.5 L271.3 569.4 L271.2 570.4 L271.1 571.3 L271.0 572.3 L270.8 573.2 L270.7 574.1 L270.5 575.0 L270.3 575.9 L270.1 576.8 L269.9 577.7 L269.7 578.5 L269.4 579.4 L269.2 580.2 L268.9 581.0 L268.7 581.9 L268.4 582.7" fill="none" stroke="#fff" stroke-width="2.20"/>
<path d="M139.3 514.5 L139.3 512.7 L139.3 511.0 L139.4 509.3 L139.6 507.6 L139.7 505.9 L139.9 504.2 L140.2 502.6 L140.5 501.0 L140.8 499.5 L141.2 497.9 L141.6 496.4 L142.0 495.0 L142.5 493.6 L143.0 492.2 L143.5 490.8 L144.1 489.5 L144.7 488.2 L145.4 487.0 L146.1 485.8 L146.8 484.6 L147.5 483.5 L148.3 482.4 L149.1 481.4 L150.0 480.4 L161.0 468.4 L161.9 467.4 L162.8 466.5 L163.7 465.7 L164.7 464.9 L165.7 464.1 L166.7 463.4 L167.8 462.7 L168.8 462.1 L169.9 461.6 L171.1 461.0 L172.2 460.6 L173.4 460.1 L174.6 459.8 L175.8 459.5 L177.1 459.2 L178.3 459.0 L179.6 458.8 L180.9 458.7 L182.2 458.6 L183.5 458.6 L184.9 458.7 L186.2 458.8 L187.6 458.9 L189.0 459.1 L190.4 459.4 L191.8 459.6 L193.2 460.0 L194.7 460.4 L196.1 460.8 L197.5 461.3 L199.0 461.9 L200.4 462.5 L201.9 463.1 L203.4 463.8 L204.8 464.6 L206.3 465.3 L207.8 466.2 L209.2 467.1 L210.7 468.0 L212.1 468.9 L213.6 470.0 L215.0 471.0 L216.5 472.1 L217.9 473.3 L219.3 474.4 L220.7 475.7 L222.1 476.9 L223.5 478.2 L224.9 479.6 L226.3 481.0 L227.6 482.4 L229.0 483.8 L230.3 485.3 L231.6 486.8 L232.9 488.4 L234.2 489.9 L235.4 491.6 L236.6 493.2 L237.8 494.9 L239.0 496.5 L240.2 498.2 L241.3 500.0 L242.5 501.8 L243.6 503.5 L244.6 505.3 L245.7 507.2 L246.7 509.0 L247.6 510.9 L248.6 512.7 L249.5 514.6 L250.4 516.5 L251.3 518.4 L252.1 520.3 L252.9 522.3 L253.7 524.2 L254.4 526.1 L255.1 528.1 L255.8 530.0 L256.4 532.0 L257.0 534.0 L257.6 535.9 L258.1 537.9 L258.6 539.8 L259.0 541.7 L259.4 543.7 L259.8 545.6 L260.2 547.5 L260.5 549.4 L260.7 551.3 L261.0 553.2 L261.2 555.1 L261.3 556.9 L261.4 558.8 L261.5 560.6 L261.5 562.4 L261.5 564.2 L261.5 565.9 L261.4 567.7 L261.3 569.4 L261.1 571.1 L261.0 572.7 L260.7 574.4 L260.5 576.0 L260.2 577.5 L259.8 579.1 L259.4 580.6 L259.0 582.1 L258.6 583.5 L258.1 585.0 L257.5 586.3 L257.0 587.7 L256.4 589.0 L255.8 590.2 L255.1 591.4 L254.4 592.6 L253.6 593.8 L252.9 594.9 L252.1 595.9 L251.2 596.9 L250.4 597.9 L239.4 609.9 L238.5 610.8 L237.6 611.7 L236.6 612.5 L235.6 613.3 L234.6 614.0 L233.6 614.7 L232.5 615.4 L231.4 616.0 L230.3 616.5 L229.2 617.0 L228.0 617.4 L226.8 617.8 L225.6 618.2 L224.4 618.5 L223.1 618.7 L221.8 618.9 L220.6 619.0 L219.3 619.1 L217.9 619.2 L216.6 619.1 L215.2 619.1 L213.9 619.0 L212.5 618.8 L211.1 618.6 L209.7 618.3 L208.3 618.0 L206.8 617.6 L205.4 617.2 L204.0 616.7 L202.5 616.2 L201.1 615.6 L199.6 615.0 L198.2 614.3 L196.7 613.6 L195.2 612.9 L193.8 612.0 L192.3 611.2 L190.9 610.3 L189.4 609.3 L187.9 608.4 L186.5 607.3 L185.1 606.2 L183.6 605.1 L182.2 604.0 L180.8 602.7 L179.4 601.5 L178.0 600.2 L176.6 598.9 L175.2 597.5 L173.8 596.1 L172.5 594.7 L171.2 593.2 L169.8 591.7 L168.6 590.2 L167.3 588.6 L166.0 587.1 L164.8 585.4 L163.6 583.8 L162.3 582.1 L161.2 580.4 L160.0 578.7 L158.9 576.9 L157.8 575.2 L156.7 573.4 L155.7 571.5 L154.6 569.7 L153.7 567.9 L152.7 566.0 L151.7 564.1 L150.8 562.2 L150.0 560.3 L149.1 558.4 L148.3 556.5 L147.5 554.6 L146.8 552.6 L146.0 550.7 L145.4 548.7 L144.7 546.8 L144.1 544.8 L143.5 542.9 L143.0 540.9 L142.5 539.0 L142.0 537.0 L141.6 535.1 L141.2 533.2 L140.8 531.2 L140.5 529.3 L140.2 527.4 L139.9 525.5 L139.7 523.6 L139.6 521.8 L139.4 519.9 L139.3 518.1 L139.3 516.3Z" fill="#fff" stroke="#050505" stroke-width="2.40"/>
<ellipse cx="194.9" cy="544.9" rx="79.9" ry="47.2" transform="rotate(62.8 194.9 544.9)" fill="#050505" stroke="none" stroke-width="1.00" />
<path d="M185.9 472.1 L187.0 472.5 L188.0 472.8 L189.0 473.2 L190.0 473.6 L191.0 474.0 L192.1 474.5 L193.1 474.9 L194.1 475.4 L195.1 476.0 L196.2 476.5 L197.2 477.1 L198.2 477.7 L199.3 478.3 L200.3 478.9 L201.3 479.6 L202.3 480.2 L203.3 480.9 L204.4 481.7 L205.4 482.4 L206.4 483.2 L207.4 484.0 L208.4 484.8 L209.4 485.6 L210.4 486.5 L211.4 487.3 L212.4 488.2 L213.4 489.1 L214.4 490.0 L215.3 491.0 L216.3 492.0 L217.2 492.9 L218.2 493.9 L219.1 494.9 L220.1 496.0 L221.0 497.0 L221.9 498.1 L222.8 499.2 L223.7 500.3 L224.6 501.4 L225.5 502.5 L226.4 503.6 L227.2 504.8 L228.1 506.0 L228.9 507.1 L229.7 508.3 L230.6 509.5 L231.4 510.8 L232.2 512.0 L232.9 513.2 L233.7 514.5 L234.5 515.7 L235.2 517.0 L235.9 518.3 L236.7 519.6 L237.4 520.9 L238.1 522.2 L238.7 523.5 L239.4 524.8 L240.0 526.2 L240.7 527.5 L241.3 528.8 L241.9 530.2 L242.5 531.5 L243.0 532.9 L243.6 534.2 L244.1 535.6 L244.6 537.0 L245.1 538.3 L245.6 539.7 L246.1 541.1 L246.6 542.4 L247.0 543.8 L247.4 545.2 L247.8 546.6 L248.2 547.9 L248.6 549.3 L248.9 550.7 L249.2 552.0 L249.6 553.4 L249.9 554.8 L250.1 556.1 L250.4 557.5 L250.6 558.8 L250.9 560.2 L251.1 561.5 L251.2 562.8 L251.4 564.2 L251.5 565.5 L251.7 566.8 L251.8 568.1 L251.9 569.4 L251.9 570.7 L252.0 572.0 L252.0 573.2 L252.0 574.5 L252.0 575.7 L252.0 577.0 L252.0 578.2 L251.9 579.4 L251.8 580.6 L251.7 581.8 L251.6 583.0 L251.5 584.2 L251.3 585.3 L251.1 586.4 L250.9 587.6 L250.7 588.7 L250.5 589.8 L250.3 590.9 L250.0 591.9 L249.7 593.0 L249.4 594.0 L249.1 595.0 L248.7 596.0 L248.4 597.0 L248.0 597.9 L247.6 598.9 L247.2 599.8 L246.8 600.7" fill="none" stroke="#fff" stroke-width="0.80"/>
<ellipse cx="191.5" cy="545.7" rx="79.4" ry="43.4" transform="rotate(63.1 191.5 545.7)" fill="#fff" stroke="#050505" stroke-width="1.00" />
<ellipse cx="193.9" cy="546.2" rx="58.2" ry="32.7" transform="rotate(61.1 193.9 546.2)" fill="#fff" stroke="#050505" stroke-width="1.00" />
<g clip-path="url(#c5)">
<ellipse cx="197.4" cy="540.2" rx="58.2" ry="32.7" transform="rotate(61.1 197.4 540.2)" fill="#050505" stroke="none" stroke-width="1.00" />
<ellipse cx="219.9" cy="530.2" rx="58.2" ry="32.7" transform="rotate(61.1 219.9 530.2)" fill="#fff" stroke="none" stroke-width="1.00" />
</g>
<ellipse cx="193.9" cy="546.2" rx="58.2" ry="32.7" transform="rotate(61.1 193.9 546.2)" fill="none" stroke="#050505" stroke-width="1.00" />
<ellipse cx="218.0" cy="530.0" rx="8.0" ry="15.0" transform="rotate(-28.0 218.0 530.0)" fill="#050505" stroke="none" stroke-width="1.00" />
<path d="M215.5 521 Q224 527 226.5 541" fill="none" stroke="#fff" stroke-width="1.6"/>
<path d="M41.1 569.6 L41.2 568.0 L41.3 566.4 L41.4 564.8 L41.5 563.3 L41.7 561.7 L41.9 560.2 L42.2 558.7 L42.5 557.3 L42.9 555.8 L43.2 554.4 L43.6 553.1 L44.1 551.7 L44.6 550.4 L45.1 549.1 L45.7 547.9 L46.3 546.7 L46.9 545.5 L47.6 544.3 L48.3 543.2 L49.0 542.1 L49.8 541.1 L50.6 540.0 L51.5 539.1 L52.4 538.1 L53.3 537.2 L54.3 536.3 L55.3 535.5 L56.3 534.7 L57.4 533.9 L58.5 533.1 L59.8 532.4 L61.0 531.7 L62.5 531.0 L72.0 526.5 L73.3 525.8 L74.6 525.3 L75.9 524.8 L77.2 524.4 L78.4 524.0 L79.7 523.7 L81.0 523.4 L82.3 523.2 L83.6 523.1 L84.9 522.9 L86.2 522.9 L87.5 522.9 L88.8 522.9 L90.1 523.0 L91.4 523.1 L92.8 523.3 L94.1 523.5 L95.5 523.8 L96.8 524.1 L98.2 524.5 L99.5 525.0 L100.9 525.4 L102.2 525.9 L103.6 526.5 L104.9 527.1 L106.3 527.8 L107.6 528.5 L109.0 529.2 L110.3 530.0 L111.7 530.9 L113.0 531.7 L114.4 532.7 L115.7 533.6 L117.0 534.6 L118.4 535.7 L119.7 536.8 L121.0 538.0 L122.3 539.1 L123.6 540.4 L124.9 541.6 L126.1 542.9 L127.4 544.2 L128.7 545.6 L129.9 547.0 L131.1 548.5 L132.3 550.0 L133.5 551.5 L134.7 553.1 L135.9 554.7 L137.1 556.3 L138.2 558.0 L139.3 559.7 L140.5 561.5 L141.6 563.3 L142.7 565.2 L143.8 567.0 L144.9 569.0 L146.0 571.1 L147.1 573.2 L148.3 575.7 L149.4 577.8 L150.3 579.9 L151.3 581.9 L152.1 583.9 L153.0 585.8 L153.8 587.8 L154.5 589.7 L155.2 591.6 L155.9 593.5 L156.5 595.5 L157.1 597.3 L157.6 599.2 L158.1 601.1 L158.6 602.9 L159.1 604.8 L159.4 606.6 L159.8 608.4 L160.1 610.2 L160.4 612.0 L160.7 613.8 L160.9 615.5 L161.1 617.3 L161.2 619.0 L161.3 620.7 L161.3 622.4 L161.4 624.0 L161.3 625.7 L161.3 627.3 L161.2 628.9 L161.1 630.5 L160.9 632.0 L160.7 633.5 L160.4 635.0 L160.1 636.5 L159.8 638.0 L159.5 639.4 L159.1 640.8 L158.6 642.1 L158.2 643.4 L157.7 644.7 L157.1 646.0 L156.5 647.2 L155.9 648.4 L155.3 649.6 L154.6 650.8 L153.8 651.9 L153.1 652.9 L152.3 654.0 L151.4 655.0 L150.6 655.9 L149.7 656.9 L148.7 657.7 L147.7 658.6 L146.7 659.4 L145.6 660.2 L144.5 661.0 L143.4 661.7 L142.1 662.4 L140.7 663.2 L139.3 663.9 L129.8 668.4 L128.5 668.9 L127.2 669.5 L126.0 669.9 L124.7 670.3 L123.4 670.6 L122.2 670.9 L120.9 671.2 L119.6 671.4 L118.3 671.5 L117.0 671.6 L115.7 671.6 L114.4 671.6 L113.0 671.6 L111.7 671.5 L110.4 671.3 L109.1 671.1 L107.7 670.8 L106.4 670.5 L105.0 670.2 L103.7 669.8 L102.3 669.3 L101.0 668.8 L99.6 668.3 L98.2 667.7 L96.9 667.1 L95.5 666.4 L94.2 665.6 L92.8 664.9 L91.5 664.1 L90.1 663.2 L88.8 662.3 L87.5 661.4 L86.1 660.4 L84.8 659.3 L83.5 658.2 L82.2 657.1 L80.8 656.0 L79.6 654.8 L78.3 653.5 L77.0 652.2 L75.7 650.9 L74.5 649.6 L73.2 648.2 L72.0 646.7 L70.8 645.3 L69.6 643.8 L68.4 642.2 L67.2 640.6 L66.0 639.0 L64.9 637.3 L63.7 635.6 L62.6 633.9 L61.5 632.1 L60.4 630.3 L59.3 628.4 L58.2 626.5 L57.1 624.5 L56.0 622.4 L54.7 620.0 L53.6 617.8 L52.6 615.7 L51.7 613.6 L50.8 611.6 L50.0 609.6 L49.1 607.7 L48.4 605.8 L47.6 603.8 L47.0 601.9 L46.3 600.0 L45.7 598.1 L45.1 596.2 L44.6 594.4 L44.1 592.5 L43.7 590.6 L43.2 588.8 L42.9 587.0 L42.5 585.2 L42.2 583.4 L42.0 581.6 L41.7 579.8 L41.5 578.1 L41.4 576.4 L41.3 574.7 L41.2 573.0 L41.1 571.3Z" fill="#050505" stroke="none" stroke-width="1.00"/>
<path d="M131.2 667.7 L129.2 668.7 L127.2 669.5 L125.3 670.1 L123.4 670.7 L121.5 671.1 L119.6 671.4 L117.6 671.6 L115.7 671.6 L113.7 671.6 L111.7 671.4 L109.7 671.2 L107.7 670.8 L105.6 670.3 L103.6 669.8 L101.6 669.1 L99.5 668.3 L97.5 667.4 L95.5 666.3 L93.4 665.2 L91.4 664.0 L89.4 662.7 L87.4 661.3 L85.4 659.8 L83.4 658.2 L81.4 656.5 L79.5 654.7 L77.5 652.8 L75.6 650.8 L73.7 648.7 L71.9 646.6 L70.0 644.4 L68.2 642.0 L66.5 639.6 L64.7 637.1 L63.0 634.6 L61.4 631.9 L59.7 629.1 L58.1 626.2 L56.4 623.2 L54.6 619.7 L53.0 616.4 L51.6 613.4 L50.3 610.4 L49.0 607.4 L47.9 604.5 L46.9 601.6 L45.9 598.8 L45.1 595.9 L44.3 593.1 L43.6 590.4 L43.0 587.6 L42.5 584.9 L42.0 582.2 L41.7 579.5 L41.4 576.9 L41.2 574.4 L41.2 571.8 L41.2 569.3 L41.2 566.9 L41.4 564.5 L41.7 562.2 L42.0 559.9 L42.4 557.7 L42.9 555.6 L43.5 553.5 L44.2 551.4 L45.0 549.5 L45.8 547.6 L46.7 545.8 L47.7 544.1 L48.8 542.4 L50.0 540.8 L51.2 539.3 L52.6 537.9 L54.0 536.6 L55.5 535.3 L57.1 534.1 L58.8 533.0 L60.7 531.9 L62.9 530.8 L64.8 529.9 L66.7 529.2 L68.6 528.6 L70.5 528.1 L72.5 527.8 L74.4 527.5 L76.4 527.4 L78.3 527.4 L80.3 527.5 L82.3 527.7 L84.3 528.0 L86.3 528.4 L88.4 528.9 L90.4 529.6 L92.4 530.3 L94.5 531.2 L96.5 532.1 L98.6 533.2 L100.6 534.4 L102.6 535.6 L104.6 537.0 L106.6 538.5 L108.6 540.0 L110.6 541.7 L112.6 543.4 L114.5 545.3 L116.4 547.2 L118.3 549.2 L120.2 551.3 L122.0 553.5 L123.9 555.8 L125.6 558.2 L127.4 560.6 L129.1 563.1 L130.8 565.8 L132.5 568.5 L134.1 571.3 L135.8 574.3 L137.5 577.5 L139.2 581.0 L140.7 584.1 L142.1 587.1 L143.4 590.1 L144.5 593.0 L145.6 595.9 L146.6 598.8 L147.5 601.6 L148.3 604.5 L149.1 607.3 L149.7 610.0 L150.3 612.8 L150.8 615.5 L151.2 618.1 L151.5 620.8 L151.7 623.4 L151.8 625.9 L151.9 628.4 L151.8 630.9 L151.7 633.3 L151.5 635.6 L151.2 637.9 L150.8 640.2 L150.3 642.4 L149.8 644.5 L149.2 646.5 L148.4 648.5 L147.6 650.5 L146.7 652.3 L145.8 654.1 L144.7 655.8 L143.6 657.4 L142.4 658.9 L141.1 660.4 L139.7 661.8 L138.2 663.1 L136.7 664.3 L135.0 665.5 L133.3 666.6Z" fill="#fff" stroke="#050505" stroke-width="1.20" />
<path d="M125.5 650.3 L124.0 651.1 L122.6 651.8 L121.3 652.4 L119.9 652.8 L118.5 653.2 L117.0 653.5 L115.6 653.7 L114.1 653.9 L112.7 653.9 L111.2 653.9 L109.6 653.7 L108.1 653.5 L106.6 653.2 L105.0 652.8 L103.5 652.4 L101.9 651.9 L100.3 651.2 L98.7 650.5 L97.1 649.8 L95.5 648.9 L94.0 648.0 L92.4 647.0 L90.8 645.9 L89.2 644.7 L87.6 643.5 L86.1 642.2 L84.5 640.8 L83.0 639.4 L81.4 637.9 L79.9 636.3 L78.4 634.7 L76.9 632.9 L75.5 631.2 L74.0 629.3 L72.6 627.4 L71.2 625.5 L69.8 623.4 L68.4 621.3 L67.0 619.0 L65.4 616.4 L64.0 613.9 L62.8 611.7 L61.6 609.4 L60.5 607.2 L59.5 605.0 L58.5 602.9 L57.7 600.7 L56.8 598.6 L56.1 596.5 L55.4 594.4 L54.8 592.3 L54.2 590.2 L53.8 588.2 L53.3 586.2 L53.0 584.2 L52.7 582.3 L52.5 580.3 L52.3 578.4 L52.3 576.6 L52.2 574.8 L52.3 573.0 L52.4 571.2 L52.6 569.5 L52.8 567.9 L53.2 566.2 L53.5 564.7 L54.0 563.2 L54.5 561.7 L55.1 560.3 L55.7 558.9 L56.5 557.6 L57.2 556.4 L58.1 555.2 L59.0 554.0 L60.0 553.0 L61.0 551.9 L62.2 551.0 L63.4 550.1 L64.7 549.2 L66.2 548.3 L67.7 547.5 L69.0 546.9 L70.4 546.4 L71.8 546.0 L73.3 545.6 L74.7 545.4 L76.1 545.2 L77.6 545.1 L79.1 545.1 L80.6 545.2 L82.1 545.4 L83.7 545.6 L85.2 546.0 L86.8 546.4 L88.3 546.9 L89.9 547.4 L91.5 548.1 L93.1 548.8 L94.7 549.7 L96.2 550.6 L97.8 551.5 L99.4 552.6 L101.0 553.7 L102.6 554.9 L104.2 556.2 L105.7 557.5 L107.3 558.9 L108.8 560.4 L110.3 561.9 L111.8 563.5 L113.3 565.2 L114.8 566.9 L116.3 568.7 L117.7 570.6 L119.1 572.6 L120.5 574.6 L121.9 576.7 L123.3 578.9 L124.8 581.2 L126.3 583.9 L127.6 586.2 L128.8 588.5 L130.0 590.7 L131.0 592.9 L132.0 595.1 L132.9 597.2 L133.8 599.3 L134.5 601.5 L135.3 603.6 L135.9 605.7 L136.5 607.7 L137.0 609.8 L137.5 611.8 L137.8 613.8 L138.2 615.8 L138.4 617.7 L138.6 619.6 L138.7 621.5 L138.8 623.3 L138.8 625.1 L138.7 626.9 L138.5 628.6 L138.3 630.3 L138.0 632.0 L137.7 633.5 L137.2 635.1 L136.8 636.6 L136.2 638.0 L135.6 639.4 L134.9 640.7 L134.2 642.0 L133.3 643.2 L132.5 644.4 L131.5 645.5 L130.5 646.5 L129.4 647.5 L128.2 648.5 L127.0 649.4Z" fill="#050505" stroke="none" stroke-width="1.00" />
<g clip-path="url(#c6)">
<path d="M136.6 643.8 L135.2 644.6 L133.8 645.2 L132.5 645.8 L131.1 646.2 L129.8 646.6 L128.4 646.9 L127.0 647.1 L125.6 647.2 L124.1 647.3 L122.7 647.2 L121.2 647.1 L119.7 646.9 L118.2 646.6 L116.7 646.2 L115.2 645.8 L113.7 645.3 L112.2 644.7 L110.6 644.0 L109.1 643.2 L107.5 642.4 L106.0 641.5 L104.5 640.5 L102.9 639.5 L101.4 638.4 L99.9 637.2 L98.3 635.9 L96.8 634.6 L95.3 633.2 L93.9 631.7 L92.4 630.2 L90.9 628.6 L89.5 626.9 L88.1 625.2 L86.7 623.4 L85.3 621.6 L83.9 619.7 L82.5 617.7 L81.2 615.6 L79.8 613.4 L78.3 610.9 L77.0 608.5 L75.7 606.3 L74.6 604.1 L73.6 602.0 L72.6 599.9 L71.7 597.8 L70.8 595.7 L70.0 593.6 L69.3 591.6 L68.6 589.5 L68.0 587.5 L67.5 585.5 L67.0 583.6 L66.6 581.6 L66.3 579.7 L66.0 577.8 L65.8 575.9 L65.6 574.1 L65.5 572.3 L65.5 570.5 L65.6 568.8 L65.7 567.1 L65.9 565.4 L66.1 563.8 L66.4 562.2 L66.8 560.7 L67.2 559.2 L67.7 557.8 L68.3 556.5 L68.9 555.1 L69.6 553.9 L70.4 552.7 L71.2 551.5 L72.1 550.4 L73.0 549.4 L74.1 548.4 L75.2 547.4 L76.3 546.5 L77.6 545.7 L79.1 544.8 L80.5 544.1 L81.8 543.5 L83.2 543.0 L84.5 542.6 L85.9 542.2 L87.3 542.0 L88.7 541.8 L90.1 541.7 L91.6 541.7 L93.0 541.8 L94.5 542.0 L96.0 542.2 L97.5 542.6 L99.0 543.0 L100.5 543.4 L102.1 544.0 L103.6 544.6 L105.1 545.4 L106.7 546.2 L108.2 547.0 L109.8 548.0 L111.3 549.0 L112.8 550.1 L114.4 551.2 L115.9 552.5 L117.4 553.7 L118.9 555.1 L120.4 556.5 L121.9 558.0 L123.3 559.6 L124.8 561.2 L126.2 562.9 L127.6 564.7 L129.0 566.5 L130.4 568.4 L131.8 570.3 L133.1 572.3 L134.5 574.5 L135.9 576.8 L137.4 579.3 L138.7 581.6 L139.8 583.8 L140.9 586.0 L141.9 588.1 L142.9 590.2 L143.8 592.3 L144.6 594.4 L145.4 596.4 L146.1 598.5 L146.7 600.5 L147.3 602.5 L147.8 604.5 L148.2 606.4 L148.6 608.4 L148.9 610.3 L149.1 612.2 L149.3 614.0 L149.4 615.8 L149.5 617.6 L149.5 619.4 L149.4 621.1 L149.2 622.8 L149.0 624.4 L148.7 626.0 L148.4 627.5 L148.0 629.0 L147.5 630.5 L147.0 631.9 L146.4 633.2 L145.7 634.5 L145.0 635.7 L144.2 636.9 L143.4 638.1 L142.4 639.1 L141.5 640.1 L140.4 641.1 L139.3 642.0 L138.0 642.9Z" fill="#fff" stroke="#050505" stroke-width="2.20" />
</g>
<path d="M125.5 650.3 L124.0 651.1 L122.6 651.8 L121.3 652.4 L119.9 652.8 L118.5 653.2 L117.0 653.5 L115.6 653.7 L114.1 653.9 L112.7 653.9 L111.2 653.9 L109.6 653.7 L108.1 653.5 L106.6 653.2 L105.0 652.8 L103.5 652.4 L101.9 651.9 L100.3 651.2 L98.7 650.5 L97.1 649.8 L95.5 648.9 L94.0 648.0 L92.4 647.0 L90.8 645.9 L89.2 644.7 L87.6 643.5 L86.1 642.2 L84.5 640.8 L83.0 639.4 L81.4 637.9 L79.9 636.3 L78.4 634.7 L76.9 632.9 L75.5 631.2 L74.0 629.3 L72.6 627.4 L71.2 625.5 L69.8 623.4 L68.4 621.3 L67.0 619.0 L65.4 616.4 L64.0 613.9 L62.8 611.7 L61.6 609.4 L60.5 607.2 L59.5 605.0 L58.5 602.9 L57.7 600.7 L56.8 598.6 L56.1 596.5 L55.4 594.4 L54.8 592.3 L54.2 590.2 L53.8 588.2 L53.3 586.2 L53.0 584.2 L52.7 582.3 L52.5 580.3 L52.3 578.4 L52.3 576.6 L52.2 574.8 L52.3 573.0 L52.4 571.2 L52.6 569.5 L52.8 567.9 L53.2 566.2 L53.5 564.7 L54.0 563.2 L54.5 561.7 L55.1 560.3 L55.7 558.9 L56.5 557.6 L57.2 556.4 L58.1 555.2 L59.0 554.0 L60.0 553.0 L61.0 551.9 L62.2 551.0 L63.4 550.1 L64.7 549.2 L66.2 548.3 L67.7 547.5 L69.0 546.9 L70.4 546.4 L71.8 546.0 L73.3 545.6 L74.7 545.4 L76.1 545.2 L77.6 545.1 L79.1 545.1 L80.6 545.2 L82.1 545.4 L83.7 545.6 L85.2 546.0 L86.8 546.4 L88.3 546.9 L89.9 547.4 L91.5 548.1 L93.1 548.8 L94.7 549.7 L96.2 550.6 L97.8 551.5 L99.4 552.6 L101.0 553.7 L102.6 554.9 L104.2 556.2 L105.7 557.5 L107.3 558.9 L108.8 560.4 L110.3 561.9 L111.8 563.5 L113.3 565.2 L114.8 566.9 L116.3 568.7 L117.7 570.6 L119.1 572.6 L120.5 574.6 L121.9 576.7 L123.3 578.9 L124.8 581.2 L126.3 583.9 L127.6 586.2 L128.8 588.5 L130.0 590.7 L131.0 592.9 L132.0 595.1 L132.9 597.2 L133.8 599.3 L134.5 601.5 L135.3 603.6 L135.9 605.7 L136.5 607.7 L137.0 609.8 L137.5 611.8 L137.8 613.8 L138.2 615.8 L138.4 617.7 L138.6 619.6 L138.7 621.5 L138.8 623.3 L138.8 625.1 L138.7 626.9 L138.5 628.6 L138.3 630.3 L138.0 632.0 L137.7 633.5 L137.2 635.1 L136.8 636.6 L136.2 638.0 L135.6 639.4 L134.9 640.7 L134.2 642.0 L133.3 643.2 L132.5 644.4 L131.5 645.5 L130.5 646.5 L129.4 647.5 L128.2 648.5 L127.0 649.4Z" fill="none" stroke="#050505" stroke-width="1.30" />
<g opacity="0.18"><g clip-path="url(#wmA1)"><circle cx="481.1" cy="124.8" r="19.0" fill="none" stroke="rgb(199,155,80)" stroke-width="9.0"/><path d="M476.0 102.8 L477.4 96.8 L484.8 96.8 L486.2 102.8 Z" fill="rgb(199,155,80)" transform="rotate(8.0 481.1 124.8)"/><path d="M476.0 102.8 L477.4 96.8 L484.8 96.8 L486.2 102.8 Z" fill="rgb(199,155,80)" transform="rotate(53.0 481.1 124.8)"/><path d="M476.0 102.8 L477.4 96.8 L484.8 96.8 L486.2 102.8 Z" fill="rgb(199,155,80)" transform="rotate(98.0 481.1 124.8)"/><path d="M476.0 102.8 L477.4 96.8 L484.8 96.8 L486.2 102.8 Z" fill="rgb(199,155,80)" transform="rotate(143.0 481.1 124.8)"/><path d="M476.0 102.8 L477.4 96.8 L484.8 96.8 L486.2 102.8 Z" fill="rgb(199,155,80)" transform="rotate(188.0 481.1 124.8)"/><path d="M476.0 102.8 L477.4 96.8 L484.8 96.8 L486.2 102.8 Z" fill="rgb(199,155,80)" transform="rotate(233.0 481.1 124.8)"/><path d="M476.0 102.8 L477.4 96.8 L484.8 96.8 L486.2 102.8 Z" fill="rgb(199,155,80)" transform="rotate(278.0 481.1 124.8)"/><path d="M476.0 102.8 L477.4 96.8 L484.8 96.8 L486.2 102.8 Z" fill="rgb(199,155,80)" transform="rotate(323.0 481.1 124.8)"/><circle cx="512.2" cy="97.1" r="13.9" fill="none" stroke="rgb(199,155,80)" stroke-width="5.8"/><path d="M509.3 81.8 L510.1 76.8 L514.3 76.8 L515.1 81.8 Z" fill="rgb(199,155,80)" transform="rotate(0.0 512.2 97.1)"/><path d="M509.3 81.8 L510.1 76.8 L514.3 76.8 L515.1 81.8 Z" fill="rgb(199,155,80)" transform="rotate(40.0 512.2 97.1)"/><path d="M509.3 81.8 L510.1 76.8 L514.3 76.8 L515.1 81.8 Z" fill="rgb(199,155,80)" transform="rotate(80.0 512.2 97.1)"/><path d="M509.3 81.8 L510.1 76.8 L514.3 76.8 L515.1 81.8 Z" fill="rgb(199,155,80)" transform="rotate(120.0 512.2 97.1)"/><path d="M509.3 81.8 L510.1 76.8 L514.3 76.8 L515.1 81.8 Z" fill="rgb(199,155,80)" transform="rotate(160.0 512.2 97.1)"/><path d="M509.3 81.8 L510.1 76.8 L514.3 76.8 L515.1 81.8 Z" fill="rgb(199,155,80)" transform="rotate(200.0 512.2 97.1)"/><path d="M509.3 81.8 L510.1 76.8 L514.3 76.8 L515.1 81.8 Z" fill="rgb(199,155,80)" transform="rotate(240.0 512.2 97.1)"/><path d="M509.3 81.8 L510.1 76.8 L514.3 76.8 L515.1 81.8 Z" fill="rgb(199,155,80)" transform="rotate(280.0 512.2 97.1)"/><path d="M509.3 81.8 L510.1 76.8 L514.3 76.8 L515.1 81.8 Z" fill="rgb(199,155,80)" transform="rotate(320.0 512.2 97.1)"/></g></g><g opacity="0.19"><g clip-path="url(#wmB1)"><circle cx="481.1" cy="124.8" r="19.0" fill="none" stroke="rgb(210,206,178)" stroke-width="9.0"/><path d="M476.0 102.8 L477.4 96.8 L484.8 96.8 L486.2 102.8 Z" fill="rgb(210,206,178)" transform="rotate(8.0 481.1 124.8)"/><path d="M476.0 102.8 L477.4 96.8 L484.8 96.8 L486.2 102.8 Z" fill="rgb(210,206,178)" transform="rotate(53.0 481.1 124.8)"/><path d="M476.0 102.8 L477.4 96.8 L484.8 96.8 L486.2 102.8 Z" fill="rgb(210,206,178)" transform="rotate(98.0 481.1 124.8)"/><path d="M476.0 102.8 L477.4 96.8 L484.8 96.8 L486.2 102.8 Z" fill="rgb(210,206,178)" transform="rotate(143.0 481.1 124.8)"/><path d="M476.0 102.8 L477.4 96.8 L484.8 96.8 L486.2 102.8 Z" fill="rgb(210,206,178)" transform="rotate(188.0 481.1 124.8)"/><path d="M476.0 102.8 L477.4 96.8 L484.8 96.8 L486.2 102.8 Z" fill="rgb(210,206,178)" transform="rotate(233.0 481.1 124.8)"/><path d="M476.0 102.8 L477.4 96.8 L484.8 96.8 L486.2 102.8 Z" fill="rgb(210,206,178)" transform="rotate(278.0 481.1 124.8)"/><path d="M476.0 102.8 L477.4 96.8 L484.8 96.8 L486.2 102.8 Z" fill="rgb(210,206,178)" transform="rotate(323.0 481.1 124.8)"/></g><circle cx="513.6" cy="150.4" r="14.2" fill="none" stroke="rgb(210,206,178)" stroke-width="5.1"/><path d="M510.7 135.1 L511.5 130.1 L515.7 130.1 L516.5 135.1 Z" fill="rgb(210,206,178)" transform="rotate(5.0 513.6 150.4)"/><path d="M510.7 135.1 L511.5 130.1 L515.7 130.1 L516.5 135.1 Z" fill="rgb(210,206,178)" transform="rotate(45.0 513.6 150.4)"/><path d="M510.7 135.1 L511.5 130.1 L515.7 130.1 L516.5 135.1 Z" fill="rgb(210,206,178)" transform="rotate(85.0 513.6 150.4)"/><path d="M510.7 135.1 L511.5 130.1 L515.7 130.1 L516.5 135.1 Z" fill="rgb(210,206,178)" transform="rotate(125.0 513.6 150.4)"/><path d="M510.7 135.1 L511.5 130.1 L515.7 130.1 L516.5 135.1 Z" fill="rgb(210,206,178)" transform="rotate(165.0 513.6 150.4)"/><path d="M510.7 135.1 L511.5 130.1 L515.7 130.1 L516.5 135.1 Z" fill="rgb(210,206,178)" transform="rotate(205.0 513.6 150.4)"/><path d="M510.7 135.1 L511.5 130.1 L515.7 130.1 L516.5 135.1 Z" fill="rgb(210,206,178)" transform="rotate(245.0 513.6 150.4)"/><path d="M510.7 135.1 L511.5 130.1 L515.7 130.1 L516.5 135.1 Z" fill="rgb(210,206,178)" transform="rotate(285.0 513.6 150.4)"/><path d="M510.7 135.1 L511.5 130.1 L515.7 130.1 L516.5 135.1 Z" fill="rgb(210,206,178)" transform="rotate(325.0 513.6 150.4)"/></g><g opacity="0.22" fill="rgb(90,90,90)" style="font-family:'Liberation Sans',sans-serif"><text x="540" y="129.3" font-size="24.5" textLength="202" lengthAdjust="spacingAndGlyphs">CHTZ–PARTS.RU</text><text x="540" y="145.5" font-size="15.5" textLength="159" lengthAdjust="spacingAndGlyphs">запчасти к тракторам</text><text x="701" y="145.3" font-size="14.8" font-weight="bold" textLength="45" lengthAdjust="spacingAndGlyphs">ЧТЗ</text></g>
<g opacity="0.18"><g clip-path="url(#wmA2)"><circle cx="481.1" cy="374.8" r="19.0" fill="none" stroke="rgb(199,155,80)" stroke-width="9.0"/><path d="M476.0 352.8 L477.4 346.8 L484.8 346.8 L486.2 352.8 Z" fill="rgb(199,155,80)" transform="rotate(8.0 481.1 374.8)"/><path d="M476.0 352.8 L477.4 346.8 L484.8 346.8 L486.2 352.8 Z" fill="rgb(199,155,80)" transform="rotate(53.0 481.1 374.8)"/><path d="M476.0 352.8 L477.4 346.8 L484.8 346.8 L486.2 352.8 Z" fill="rgb(199,155,80)" transform="rotate(98.0 481.1 374.8)"/><path d="M476.0 352.8 L477.4 346.8 L484.8 346.8 L486.2 352.8 Z" fill="rgb(199,155,80)" transform="rotate(143.0 481.1 374.8)"/><path d="M476.0 352.8 L477.4 346.8 L484.8 346.8 L486.2 352.8 Z" fill="rgb(199,155,80)" transform="rotate(188.0 481.1 374.8)"/><path d="M476.0 352.8 L477.4 346.8 L484.8 346.8 L486.2 352.8 Z" fill="rgb(199,155,80)" transform="rotate(233.0 481.1 374.8)"/><path d="M476.0 352.8 L477.4 346.8 L484.8 346.8 L486.2 352.8 Z" fill="rgb(199,155,80)" transform="rotate(278.0 481.1 374.8)"/><path d="M476.0 352.8 L477.4 346.8 L484.8 346.8 L486.2 352.8 Z" fill="rgb(199,155,80)" transform="rotate(323.0 481.1 374.8)"/><circle cx="512.2" cy="347.1" r="13.9" fill="none" stroke="rgb(199,155,80)" stroke-width="5.8"/><path d="M509.3 331.8 L510.1 326.8 L514.3 326.8 L515.1 331.8 Z" fill="rgb(199,155,80)" transform="rotate(0.0 512.2 347.1)"/><path d="M509.3 331.8 L510.1 326.8 L514.3 326.8 L515.1 331.8 Z" fill="rgb(199,155,80)" transform="rotate(40.0 512.2 347.1)"/><path d="M509.3 331.8 L510.1 326.8 L514.3 326.8 L515.1 331.8 Z" fill="rgb(199,155,80)" transform="rotate(80.0 512.2 347.1)"/><path d="M509.3 331.8 L510.1 326.8 L514.3 326.8 L515.1 331.8 Z" fill="rgb(199,155,80)" transform="rotate(120.0 512.2 347.1)"/><path d="M509.3 331.8 L510.1 326.8 L514.3 326.8 L515.1 331.8 Z" fill="rgb(199,155,80)" transform="rotate(160.0 512.2 347.1)"/><path d="M509.3 331.8 L510.1 326.8 L514.3 326.8 L515.1 331.8 Z" fill="rgb(199,155,80)" transform="rotate(200.0 512.2 347.1)"/><path d="M509.3 331.8 L510.1 326.8 L514.3 326.8 L515.1 331.8 Z" fill="rgb(199,155,80)" transform="rotate(240.0 512.2 347.1)"/><path d="M509.3 331.8 L510.1 326.8 L514.3 326.8 L515.1 331.8 Z" fill="rgb(199,155,80)" transform="rotate(280.0 512.2 347.1)"/><path d="M509.3 331.8 L510.1 326.8 L514.3 326.8 L515.1 331.8 Z" fill="rgb(199,155,80)" transform="rotate(320.0 512.2 347.1)"/></g></g><g opacity="0.19"><g clip-path="url(#wmB2)"><circle cx="481.1" cy="374.8" r="19.0" fill="none" stroke="rgb(210,206,178)" stroke-width="9.0"/><path d="M476.0 352.8 L477.4 346.8 L484.8 346.8 L486.2 352.8 Z" fill="rgb(210,206,178)" transform="rotate(8.0 481.1 374.8)"/><path d="M476.0 352.8 L477.4 346.8 L484.8 346.8 L486.2 352.8 Z" fill="rgb(210,206,178)" transform="rotate(53.0 481.1 374.8)"/><path d="M476.0 352.8 L477.4 346.8 L484.8 346.8 L486.2 352.8 Z" fill="rgb(210,206,178)" transform="rotate(98.0 481.1 374.8)"/><path d="M476.0 352.8 L477.4 346.8 L484.8 346.8 L486.2 352.8 Z" fill="rgb(210,206,178)" transform="rotate(143.0 481.1 374.8)"/><path d="M476.0 352.8 L477.4 346.8 L484.8 346.8 L486.2 352.8 Z" fill="rgb(210,206,178)" transform="rotate(188.0 481.1 374.8)"/><path d="M476.0 352.8 L477.4 346.8 L484.8 346.8 L486.2 352.8 Z" fill="rgb(210,206,178)" transform="rotate(233.0 481.1 374.8)"/><path d="M476.0 352.8 L477.4 346.8 L484.8 346.8 L486.2 352.8 Z" fill="rgb(210,206,178)" transform="rotate(278.0 481.1 374.8)"/><path d="M476.0 352.8 L477.4 346.8 L484.8 346.8 L486.2 352.8 Z" fill="rgb(210,206,178)" transform="rotate(323.0 481.1 374.8)"/></g><circle cx="513.6" cy="400.4" r="14.2" fill="none" stroke="rgb(210,206,178)" stroke-width="5.1"/><path d="M510.7 385.1 L511.5 380.1 L515.7 380.1 L516.5 385.1 Z" fill="rgb(210,206,178)" transform="rotate(5.0 513.6 400.4)"/><path d="M510.7 385.1 L511.5 380.1 L515.7 380.1 L516.5 385.1 Z" fill="rgb(210,206,178)" transform="rotate(45.0 513.6 400.4)"/><path d="M510.7 385.1 L511.5 380.1 L515.7 380.1 L516.5 385.1 Z" fill="rgb(210,206,178)" transform="rotate(85.0 513.6 400.4)"/><path d="M510.7 385.1 L511.5 380.1 L515.7 380.1 L516.5 385.1 Z" fill="rgb(210,206,178)" transform="rotate(125.0 513.6 400.4)"/><path d="M510.7 385.1 L511.5 380.1 L515.7 380.1 L516.5 385.1 Z" fill="rgb(210,206,178)" transform="rotate(165.0 513.6 400.4)"/><path d="M510.7 385.1 L511.5 380.1 L515.7 380.1 L516.5 385.1 Z" fill="rgb(210,206,178)" transform="rotate(205.0 513.6 400.4)"/><path d="M510.7 385.1 L511.5 380.1 L515.7 380.1 L516.5 385.1 Z" fill="rgb(210,206,178)" transform="rotate(245.0 513.6 400.4)"/><path d="M510.7 385.1 L511.5 380.1 L515.7 380.1 L516.5 385.1 Z" fill="rgb(210,206,178)" transform="rotate(285.0 513.6 400.4)"/><path d="M510.7 385.1 L511.5 380.1 L515.7 380.1 L516.5 385.1 Z" fill="rgb(210,206,178)" transform="rotate(325.0 513.6 400.4)"/></g><g opacity="0.22" fill="rgb(90,90,90)" style="font-family:'Liberation Sans',sans-serif"><text x="540" y="379.3" font-size="24.5" textLength="202" lengthAdjust="spacingAndGlyphs">CHTZ–PARTS.RU</text><text x="540" y="395.5" font-size="15.5" textLength="159" lengthAdjust="spacingAndGlyphs">запчасти к тракторам</text><text x="701" y="395.3" font-size="14.8" font-weight="bold" textLength="45" lengthAdjust="spacingAndGlyphs">ЧТЗ</text></g>
<g opacity="0.18"><g clip-path="url(#wmA3)"><circle cx="481.1" cy="624.8" r="19.0" fill="none" stroke="rgb(199,155,80)" stroke-width="9.0"/><path d="M476.0 602.8 L477.4 596.8 L484.8 596.8 L486.2 602.8 Z" fill="rgb(199,155,80)" transform="rotate(8.0 481.1 624.8)"/><path d="M476.0 602.8 L477.4 596.8 L484.8 596.8 L486.2 602.8 Z" fill="rgb(199,155,80)" transform="rotate(53.0 481.1 624.8)"/><path d="M476.0 602.8 L477.4 596.8 L484.8 596.8 L486.2 602.8 Z" fill="rgb(199,155,80)" transform="rotate(98.0 481.1 624.8)"/><path d="M476.0 602.8 L477.4 596.8 L484.8 596.8 L486.2 602.8 Z" fill="rgb(199,155,80)" transform="rotate(143.0 481.1 624.8)"/><path d="M476.0 602.8 L477.4 596.8 L484.8 596.8 L486.2 602.8 Z" fill="rgb(199,155,80)" transform="rotate(188.0 481.1 624.8)"/><path d="M476.0 602.8 L477.4 596.8 L484.8 596.8 L486.2 602.8 Z" fill="rgb(199,155,80)" transform="rotate(233.0 481.1 624.8)"/><path d="M476.0 602.8 L477.4 596.8 L484.8 596.8 L486.2 602.8 Z" fill="rgb(199,155,80)" transform="rotate(278.0 481.1 624.8)"/><path d="M476.0 602.8 L477.4 596.8 L484.8 596.8 L486.2 602.8 Z" fill="rgb(199,155,80)" transform="rotate(323.0 481.1 624.8)"/><circle cx="512.2" cy="597.1" r="13.9" fill="none" stroke="rgb(199,155,80)" stroke-width="5.8"/><path d="M509.3 581.8 L510.1 576.8 L514.3 576.8 L515.1 581.8 Z" fill="rgb(199,155,80)" transform="rotate(0.0 512.2 597.1)"/><path d="M509.3 581.8 L510.1 576.8 L514.3 576.8 L515.1 581.8 Z" fill="rgb(199,155,80)" transform="rotate(40.0 512.2 597.1)"/><path d="M509.3 581.8 L510.1 576.8 L514.3 576.8 L515.1 581.8 Z" fill="rgb(199,155,80)" transform="rotate(80.0 512.2 597.1)"/><path d="M509.3 581.8 L510.1 576.8 L514.3 576.8 L515.1 581.8 Z" fill="rgb(199,155,80)" transform="rotate(120.0 512.2 597.1)"/><path d="M509.3 581.8 L510.1 576.8 L514.3 576.8 L515.1 581.8 Z" fill="rgb(199,155,80)" transform="rotate(160.0 512.2 597.1)"/><path d="M509.3 581.8 L510.1 576.8 L514.3 576.8 L515.1 581.8 Z" fill="rgb(199,155,80)" transform="rotate(200.0 512.2 597.1)"/><path d="M509.3 581.8 L510.1 576.8 L514.3 576.8 L515.1 581.8 Z" fill="rgb(199,155,80)" transform="rotate(240.0 512.2 597.1)"/><path d="M509.3 581.8 L510.1 576.8 L514.3 576.8 L515.1 581.8 Z" fill="rgb(199,155,80)" transform="rotate(280.0 512.2 597.1)"/><path d="M509.3 581.8 L510.1 576.8 L514.3 576.8 L515.1 581.8 Z" fill="rgb(199,155,80)" transform="rotate(320.0 512.2 597.1)"/></g></g><g opacity="0.19"><g clip-path="url(#wmB3)"><circle cx="481.1" cy="624.8" r="19.0" fill="none" stroke="rgb(210,206,178)" stroke-width="9.0"/><path d="M476.0 602.8 L477.4 596.8 L484.8 596.8 L486.2 602.8 Z" fill="rgb(210,206,178)" transform="rotate(8.0 481.1 624.8)"/><path d="M476.0 602.8 L477.4 596.8 L484.8 596.8 L486.2 602.8 Z" fill="rgb(210,206,178)" transform="rotate(53.0 481.1 624.8)"/><path d="M476.0 602.8 L477.4 596.8 L484.8 596.8 L486.2 602.8 Z" fill="rgb(210,206,178)" transform="rotate(98.0 481.1 624.8)"/><path d="M476.0 602.8 L477.4 596.8 L484.8 596.8 L486.2 602.8 Z" fill="rgb(210,206,178)" transform="rotate(143.0 481.1 624.8)"/><path d="M476.0 602.8 L477.4 596.8 L484.8 596.8 L486.2 602.8 Z" fill="rgb(210,206,178)" transform="rotate(188.0 481.1 624.8)"/><path d="M476.0 602.8 L477.4 596.8 L484.8 596.8 L486.2 602.8 Z" fill="rgb(210,206,178)" transform="rotate(233.0 481.1 624.8)"/><path d="M476.0 602.8 L477.4 596.8 L484.8 596.8 L486.2 602.8 Z" fill="rgb(210,206,178)" transform="rotate(278.0 481.1 624.8)"/><path d="M476.0 602.8 L477.4 596.8 L484.8 596.8 L486.2 602.8 Z" fill="rgb(210,206,178)" transform="rotate(323.0 481.1 624.8)"/></g><circle cx="513.6" cy="650.4" r="14.2" fill="none" stroke="rgb(210,206,178)" stroke-width="5.1"/><path d="M510.7 635.1 L511.5 630.1 L515.7 630.1 L516.5 635.1 Z" fill="rgb(210,206,178)" transform="rotate(5.0 513.6 650.4)"/><path d="M510.7 635.1 L511.5 630.1 L515.7 630.1 L516.5 635.1 Z" fill="rgb(210,206,178)" transform="rotate(45.0 513.6 650.4)"/><path d="M510.7 635.1 L511.5 630.1 L515.7 630.1 L516.5 635.1 Z" fill="rgb(210,206,178)" transform="rotate(85.0 513.6 650.4)"/><path d="M510.7 635.1 L511.5 630.1 L515.7 630.1 L516.5 635.1 Z" fill="rgb(210,206,178)" transform="rotate(125.0 513.6 650.4)"/><path d="M510.7 635.1 L511.5 630.1 L515.7 630.1 L516.5 635.1 Z" fill="rgb(210,206,178)" transform="rotate(165.0 513.6 650.4)"/><path d="M510.7 635.1 L511.5 630.1 L515.7 630.1 L516.5 635.1 Z" fill="rgb(210,206,178)" transform="rotate(205.0 513.6 650.4)"/><path d="M510.7 635.1 L511.5 630.1 L515.7 630.1 L516.5 635.1 Z" fill="rgb(210,206,178)" transform="rotate(245.0 513.6 650.4)"/><path d="M510.7 635.1 L511.5 630.1 L515.7 630.1 L516.5 635.1 Z" fill="rgb(210,206,178)" transform="rotate(285.0 513.6 650.4)"/><path d="M510.7 635.1 L511.5 630.1 L515.7 630.1 L516.5 635.1 Z" fill="rgb(210,206,178)" transform="rotate(325.0 513.6 650.4)"/></g><g opacity="0.22" fill="rgb(90,90,90)" style="font-family:'Liberation Sans',sans-serif"><text x="540" y="629.3" font-size="24.5" textLength="202" lengthAdjust="spacingAndGlyphs">CHTZ–PARTS.RU</text><text x="540" y="645.5" font-size="15.5" textLength="159" lengthAdjust="spacingAndGlyphs">запчасти к тракторам</text><text x="701" y="645.3" font-size="14.8" font-weight="bold" textLength="45" lengthAdjust="spacingAndGlyphs">ЧТЗ</text></g>
<line x1="24.4" y1="360.4" x2="68.0" y2="535.0" stroke="#050505" stroke-width="1.40"/>
<line x1="132.0" y1="311.6" x2="185.0" y2="492.0" stroke="#050505" stroke-width="1.40"/>
<line x1="254.0" y1="248.0" x2="350.5" y2="371.0" stroke="#050505" stroke-width="1.40"/>
<line x1="356.0" y1="202.0" x2="461.0" y2="311.0" stroke="#050505" stroke-width="1.40"/>
<line x1="490.0" y1="164.0" x2="574.0" y2="251.0" stroke="#050505" stroke-width="1.40"/>
<line x1="578.7" y1="117.6" x2="667.0" y2="207.0" stroke="#050505" stroke-width="1.40"/>
<line x1="662.0" y1="88.8" x2="732.0" y2="160.0" stroke="#050505" stroke-width="1.40"/>
<line x1="750.0" y1="62.0" x2="810.0" y2="125.0" stroke="#050505" stroke-width="1.40"/>
<line x1="836.0" y1="38.0" x2="885.0" y2="89.0" stroke="#050505" stroke-width="1.40"/>
<path d="M21.4 336 L24.1 336 L24.1 352 L21.4 352 Z M21.8 336.2 L22.6 339.2 L18 342.8 L17 340.8 Z" fill="#050505"/>
<text x="122.6" y="302.9" font-size="23.6" fill="#050505" stroke="#050505" stroke-width="0.55">2</text>
<text x="244.3" y="238.9" font-size="23.6" fill="#050505" stroke="#050505" stroke-width="0.55">3</text>
<text x="343.0" y="192.9" font-size="23.6" fill="#050505" stroke="#050505" stroke-width="0.55">4</text>
<text x="478.3" y="154.9" font-size="23.6" fill="#050505" stroke="#050505" stroke-width="0.55">5</text>
<text x="568.0" y="108.9" font-size="23.6" fill="#050505" stroke="#050505" stroke-width="0.55">6</text>
<text x="649.5" y="81.9" font-size="23.6" fill="#050505" stroke="#050505" stroke-width="0.55">7</text>
<text x="733.8" y="53.5" font-size="23.6" fill="#050505" stroke="#050505" stroke-width="0.55">8</text>
<text x="822.8" y="32.3" font-size="23.6" fill="#050505" stroke="#050505" stroke-width="0.55">9</text></svg>
</body></html>
